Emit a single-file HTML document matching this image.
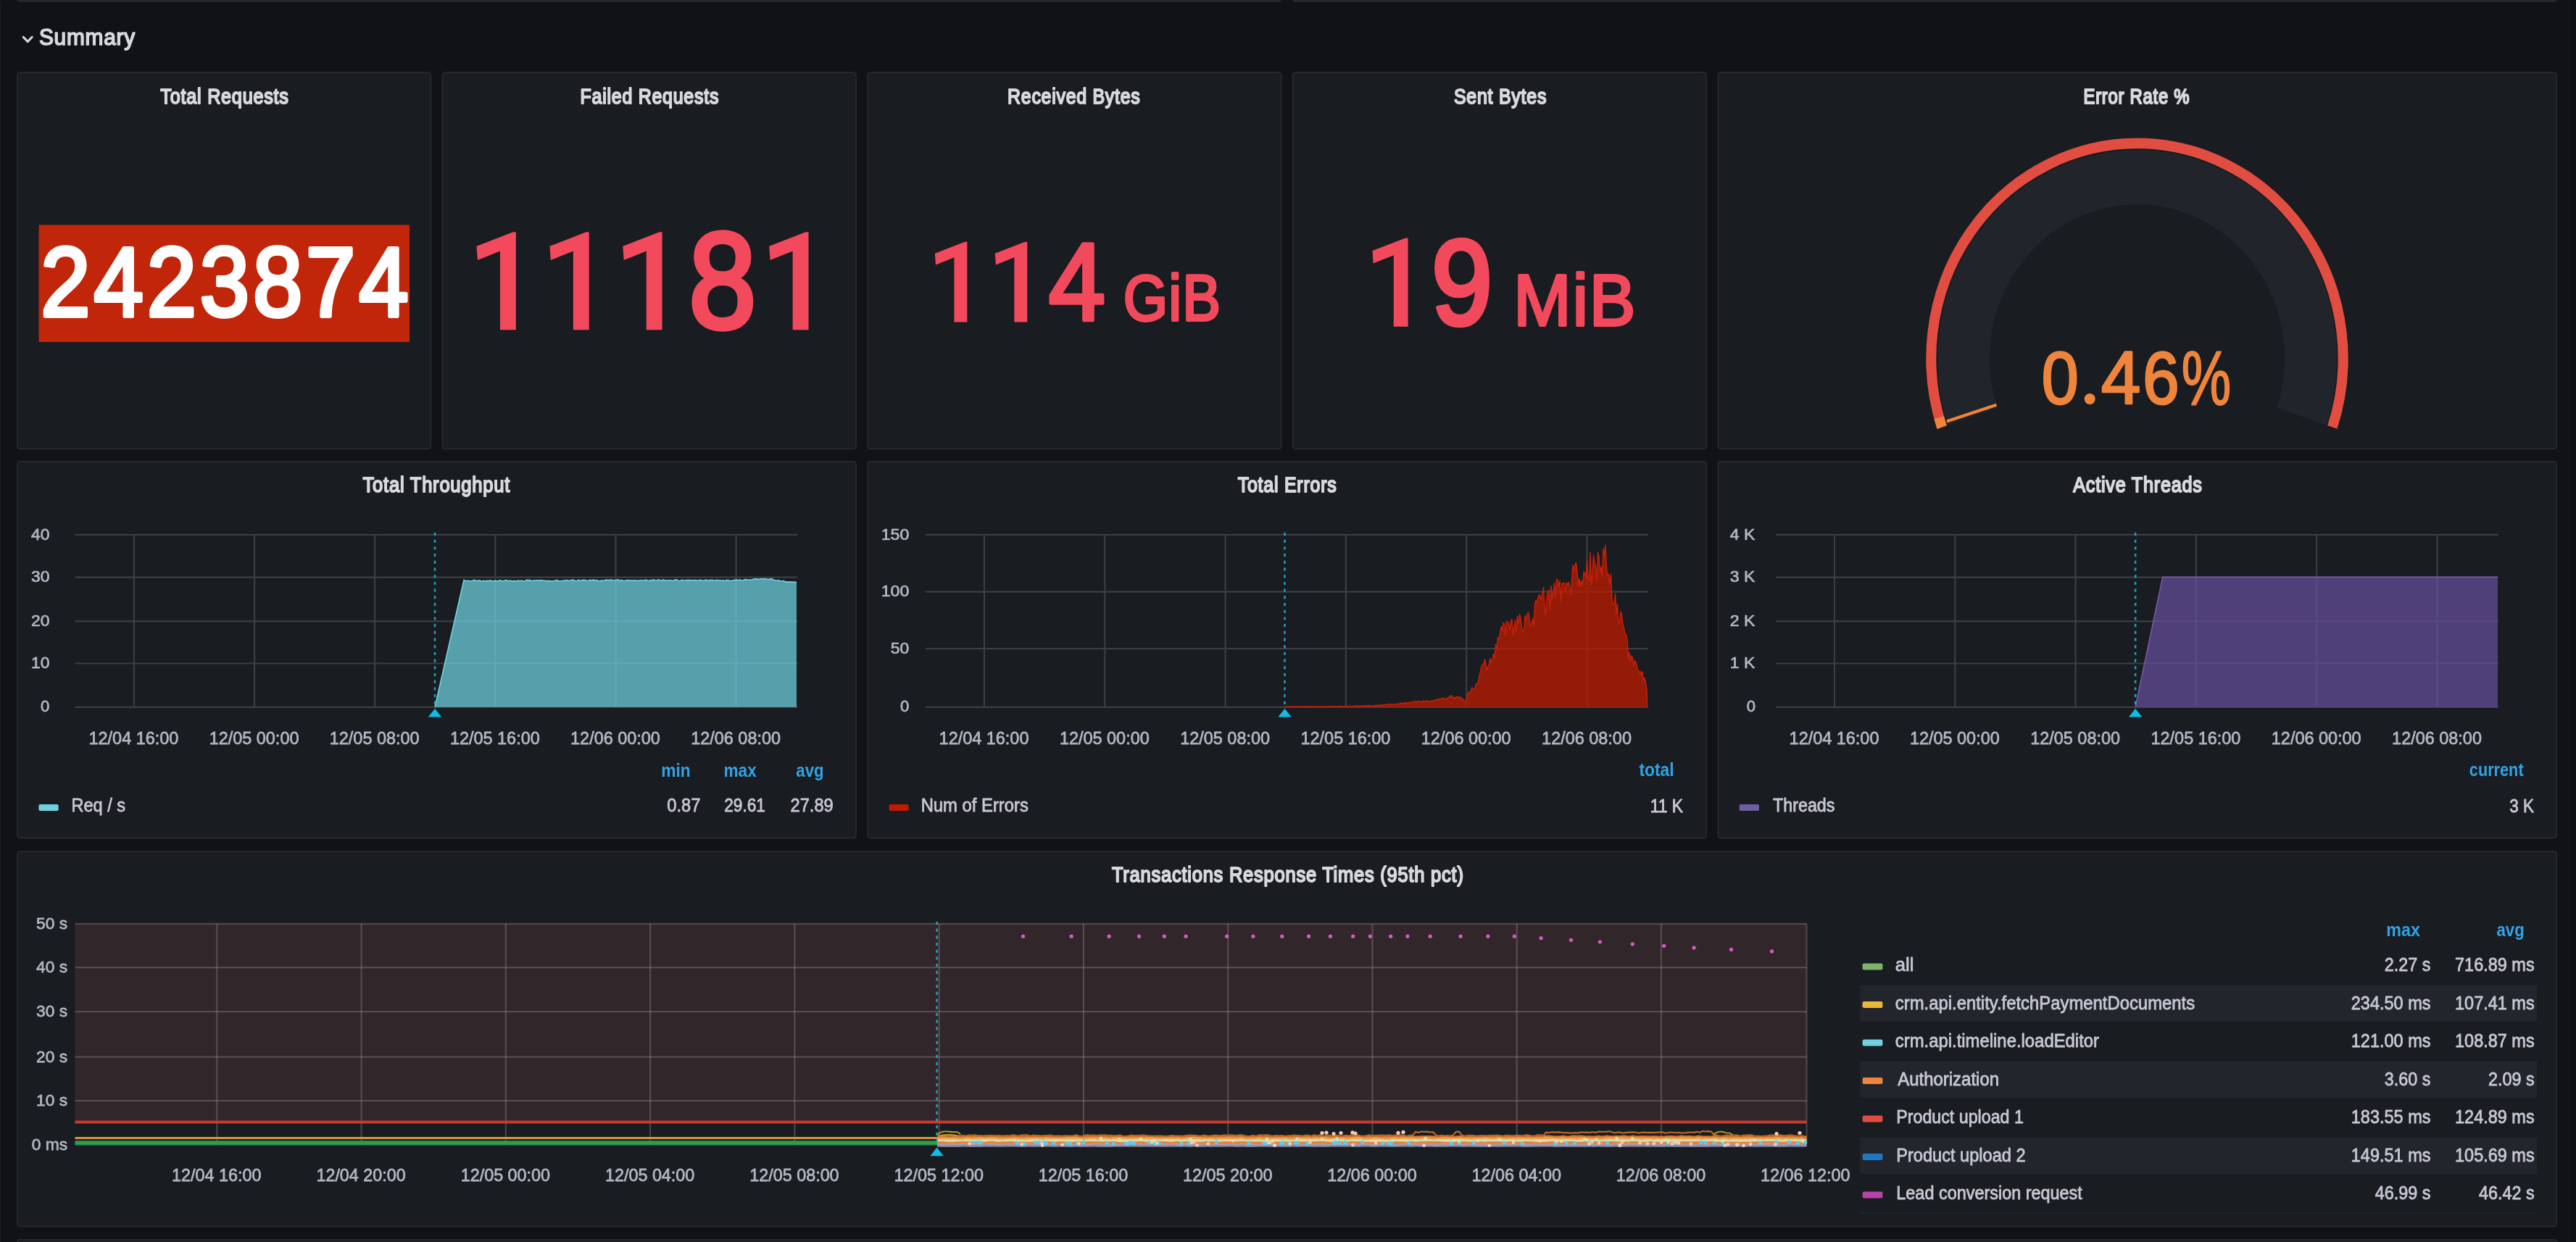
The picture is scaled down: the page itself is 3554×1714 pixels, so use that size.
<!DOCTYPE html>
<html><head><meta charset="utf-8"><title>Summary dashboard</title>
<style>
html,body{margin:0;padding:0;background:#111217;}
body{width:3554px;height:1714px;overflow:hidden;font-family:"Liberation Sans",sans-serif;}
svg{display:block;font-family:"Liberation Sans",sans-serif;filter:blur(0.6px);}
</style></head><body>
<svg width="3554" height="1714" viewBox="0 0 3554 1714">
<rect width="3554" height="1714" fill="#111217"/>
<rect x="24.00" y="-39.00" width="1743.60" height="40.60" rx="4" fill="#191c20" stroke="#2a2d32" stroke-width="2"/>
<rect x="1783.80" y="-39.00" width="1743.60" height="40.60" rx="4" fill="#191c20" stroke="#2a2d32" stroke-width="2"/>
<rect x="24.00" y="1710.70" width="3503.40" height="88.30" rx="4" fill="#191c20" stroke="#24272b" stroke-width="2"/>
<rect x="24.00" y="100.00" width="570.40" height="519.60" rx="4" fill="#191c20" stroke="#24272b" stroke-width="2"/>
<rect x="610.60" y="100.00" width="570.40" height="519.60" rx="4" fill="#191c20" stroke="#24272b" stroke-width="2"/>
<rect x="1197.20" y="100.00" width="570.40" height="519.60" rx="4" fill="#191c20" stroke="#24272b" stroke-width="2"/>
<rect x="1783.80" y="100.00" width="570.40" height="519.60" rx="4" fill="#191c20" stroke="#24272b" stroke-width="2"/>
<rect x="2370.40" y="100.00" width="1157.00" height="519.60" rx="4" fill="#191c20" stroke="#24272b" stroke-width="2"/>
<rect x="24.00" y="637.00" width="1157.00" height="519.60" rx="4" fill="#191c20" stroke="#24272b" stroke-width="2"/>
<rect x="1197.20" y="637.00" width="1157.00" height="519.60" rx="4" fill="#191c20" stroke="#24272b" stroke-width="2"/>
<rect x="2370.40" y="637.00" width="1157.00" height="519.60" rx="4" fill="#191c20" stroke="#24272b" stroke-width="2"/>
<rect x="24.00" y="1175.00" width="3503.40" height="517.40" rx="4" fill="#191c20" stroke="#24272b" stroke-width="2"/>
<rect x="3547.00" y="0.00" width="7.00" height="1714.00" fill="#0e0f13"/>
<rect x="0.00" y="3.00" width="1.30" height="1711.00" fill="#1b1d22"/>
<path d="M32.2 51.2 L38.2 57.4 L44.2 51.2" fill="none" stroke="#d8d9de" stroke-width="3" stroke-linecap="round" stroke-linejoin="round"/>
<text transform="translate(53.96 61.50) scale(0.9553 1)" font-size="31.25" font-weight="normal" fill="#d8d9de" stroke="#d8d9de" stroke-width="1.67" stroke-linejoin="round" letter-spacing="0.78">Summary</text>
<text transform="translate(221.35 142.95) scale(0.8465 1)" font-size="29.80" font-weight="normal" fill="#d8d9de" stroke="#d8d9de" stroke-width="2.01" stroke-linejoin="round" letter-spacing="0.89">Total Requests</text>
<text transform="translate(800.55 142.95) scale(0.8379 1)" font-size="29.80" font-weight="normal" fill="#d8d9de" stroke="#d8d9de" stroke-width="2.03" stroke-linejoin="round" letter-spacing="0.89">Failed Requests</text>
<text transform="translate(1390.06 142.95) scale(0.8361 1)" font-size="29.80" font-weight="normal" fill="#d8d9de" stroke="#d8d9de" stroke-width="2.03" stroke-linejoin="round" letter-spacing="0.89">Received Bytes</text>
<text transform="translate(2005.93 142.95) scale(0.8382 1)" font-size="29.80" font-weight="normal" fill="#d8d9de" stroke="#d8d9de" stroke-width="2.03" stroke-linejoin="round" letter-spacing="0.89">Sent Bytes</text>
<text transform="translate(2874.54 142.95) scale(0.8022 1)" font-size="29.80" font-weight="normal" fill="#d8d9de" stroke="#d8d9de" stroke-width="2.12" stroke-linejoin="round" letter-spacing="0.89">Error Rate %</text>
<text transform="translate(500.54 679.15) scale(0.8659 1)" font-size="29.51" font-weight="normal" fill="#d8d9de" stroke="#d8d9de" stroke-width="1.96" stroke-linejoin="round" letter-spacing="0.89">Total Throughput</text>
<text transform="translate(1707.65 679.15) scale(0.8476 1)" font-size="29.51" font-weight="normal" fill="#d8d9de" stroke="#d8d9de" stroke-width="2.01" stroke-linejoin="round" letter-spacing="0.89">Total Errors</text>
<text transform="translate(2860.25 679.15) scale(0.8549 1)" font-size="29.51" font-weight="normal" fill="#d8d9de" stroke="#d8d9de" stroke-width="1.99" stroke-linejoin="round" letter-spacing="0.89">Active Threads</text>
<text transform="translate(1533.94 1216.65) scale(0.8639 1)" font-size="29.51" font-weight="normal" fill="#d8d9de" stroke="#d8d9de" stroke-width="1.97" stroke-linejoin="round" letter-spacing="0.89">Transactions Response Times (95th pct)</text>
<rect x="53.50" y="310.30" width="511.50" height="161.70" fill="#c1250a"/>
<text transform="translate(56.37 436.00) scale(0.9018 1)" font-size="136.05" font-weight="normal" fill="#ffffff" stroke="#ffffff" stroke-width="5.77" stroke-linejoin="round" letter-spacing="5.44">2423874</text>
<defs><linearGradient id="rg" x1="0" y1="0" x2="1" y2="1"><stop offset="0" stop-color="#f5556a"/><stop offset="1" stop-color="#ee4559"/></linearGradient></defs>
<polygon points="711.80,320.30 707.75,320.30 657.53,339.74 658.88,359.05 689.93,346.49 689.93,455.30 711.80,455.30" fill="#f2495c"/>
<polygon points="812.70,320.30 808.65,320.30 758.43,339.74 759.78,359.05 790.83,346.49 790.83,455.30 812.70,455.30" fill="#f2495c"/>
<polygon points="913.60,320.30 909.55,320.30 859.33,339.74 860.68,359.05 891.73,346.49 891.73,455.30 913.60,455.30" fill="#f2495c"/>
<polygon points="1115.50,320.30 1111.45,320.30 1061.23,339.74 1062.58,359.05 1093.63,346.49 1093.63,455.30 1115.50,455.30" fill="#f2495c"/>
<text transform="translate(950.44 452.28) scale(0.8898 1)" font-size="187.46" fill="#f2495c" stroke="#f2495c" stroke-width="7.30" stroke-linejoin="round">8</text>
<polygon points="1334.40,333.80 1331.08,333.80 1289.86,349.76 1290.97,365.60 1316.45,355.30 1316.45,444.60 1334.40,444.60" fill="#f2495c"/>
<polygon points="1417.30,333.80 1413.98,333.80 1372.76,349.76 1373.87,365.60 1399.35,355.30 1399.35,444.60 1417.30,444.60" fill="#f2495c"/>
<text transform="translate(1446.78 441.90) scale(0.9199 1)" font-size="153.04" fill="#f2495c" stroke="#f2495c" stroke-width="5.44" stroke-linejoin="round">4</text>
<text transform="translate(1549.93 442.15) scale(0.8833 1)" font-size="88.81" font-weight="normal" fill="#f2495c" stroke="#f2495c" stroke-width="3.96" stroke-linejoin="round" letter-spacing="1.78">GiB</text>
<polygon points="1942.60,328.50 1938.93,328.50 1893.44,346.11 1894.66,363.60 1922.79,352.23 1922.79,450.80 1942.60,450.80" fill="#f2495c"/>
<text transform="translate(1975.11 446.94) scale(0.9091 1)" font-size="166.06" fill="#f2495c" stroke="#f2495c" stroke-width="6.60" stroke-linejoin="round">9</text>
<text transform="translate(2088.37 448.50) scale(0.9479 1)" font-size="100.58" font-weight="normal" fill="#f2495c" stroke="#f2495c" stroke-width="3.80" stroke-linejoin="round" letter-spacing="2.01">MiB</text>
<g transform="translate(2948.5 494.8) scale(1 1.045)" fill="none">
<path d="M-226.99 76.40 A239.5 239.5 0 1 1 226.99 76.40" stroke="#21242a" stroke-width="72"/>
<path d="M-269.35 90.66 A284.2 284.2 0 1 1 269.35 90.66" stroke="#e24d42" stroke-width="14"/>
<path d="M-269.35 90.66 A284.2 284.2 0 0 1 -273.32 77.90" stroke="#ef843c" stroke-width="14"/>
<line x1="-194.07" y1="61.24" x2="-262.73" y2="82.90" stroke="#ef843c" stroke-width="4"/>
</g>
<text transform="translate(2816.83 556.57) scale(0.8928 1)" font-size="102.68" fill="#ef843c" stroke="#ef843c" stroke-width="2.91" stroke-linejoin="round">0</text>
<circle cx="2883.2" cy="550.6" r="7.5" fill="#ef843c"/>
<text transform="translate(2898.64 556.80) scale(0.9505 1)" font-size="103.33" fill="#ef843c" stroke="#ef843c" stroke-width="2.74" stroke-linejoin="round">4</text>
<text transform="translate(2956.37 556.57) scale(0.8818 1)" font-size="102.68" fill="#ef843c" stroke="#ef843c" stroke-width="2.95" stroke-linejoin="round">6</text>
<text transform="translate(3009.76 557.62) scale(0.7279 1)" font-size="105.71" fill="#ef843c" stroke="#ef843c" stroke-width="2.06" stroke-linejoin="round">%</text>
<line x1="103.40" y1="738.00" x2="1100.50" y2="738.00" stroke="#3b3e43" stroke-width="2.2"/>
<line x1="103.40" y1="796.60" x2="1100.50" y2="796.60" stroke="#3b3e43" stroke-width="2.2"/>
<line x1="103.40" y1="857.30" x2="1100.50" y2="857.30" stroke="#3b3e43" stroke-width="2.2"/>
<line x1="103.40" y1="915.50" x2="1100.50" y2="915.50" stroke="#3b3e43" stroke-width="2.2"/>
<line x1="103.40" y1="975.80" x2="1100.50" y2="975.80" stroke="#3b3e43" stroke-width="2.2"/>
<line x1="184.90" y1="738.00" x2="184.90" y2="975.80" stroke="#3b3e43" stroke-width="2.2"/>
<line x1="351.04" y1="738.00" x2="351.04" y2="975.80" stroke="#3b3e43" stroke-width="2.2"/>
<line x1="517.18" y1="738.00" x2="517.18" y2="975.80" stroke="#3b3e43" stroke-width="2.2"/>
<line x1="683.32" y1="738.00" x2="683.32" y2="975.80" stroke="#3b3e43" stroke-width="2.2"/>
<line x1="849.46" y1="738.00" x2="849.46" y2="975.80" stroke="#3b3e43" stroke-width="2.2"/>
<line x1="1015.60" y1="738.00" x2="1015.60" y2="975.80" stroke="#3b3e43" stroke-width="2.2"/>
<path d="M600.0 975.8 L640.0 800.6 L641.5 801.1 L643.8 801.7 L646.1 801.3 L648.4 801.7 L650.7 801.8 L653.0 800.8 L655.3 800.6 L657.6 802.1 L659.9 801.1 L662.2 801.0 L664.5 802.4 L666.8 801.4 L669.1 802.1 L671.4 801.4 L673.7 801.7 L676.0 800.8 L678.3 801.6 L680.6 802.1 L682.9 801.4 L685.2 801.8 L687.5 801.7 L689.8 800.6 L692.1 801.8 L694.4 801.5 L696.7 801.0 L699.0 800.5 L701.3 801.9 L703.6 801.2 L705.9 801.7 L708.2 801.9 L710.5 801.6 L712.8 802.0 L715.1 801.0 L717.4 801.8 L719.7 801.1 L722.0 802.0 L724.3 801.9 L726.6 800.4 L728.9 800.5 L731.2 800.6 L733.5 802.0 L735.8 801.0 L738.1 801.3 L740.4 800.8 L742.7 801.1 L745.0 800.9 L747.3 800.8 L749.6 801.2 L751.9 801.2 L754.2 801.8 L756.5 801.4 L758.8 801.8 L761.1 801.7 L763.4 801.9 L765.7 801.3 L768.0 800.4 L770.3 801.6 L772.6 801.8 L774.9 801.7 L777.2 801.1 L779.5 801.4 L781.8 800.4 L784.1 801.5 L786.4 801.1 L788.7 800.6 L791.0 800.1 L793.3 801.6 L795.6 801.8 L797.9 800.2 L800.2 801.4 L802.5 800.7 L804.8 800.3 L807.1 800.5 L809.4 801.4 L811.7 801.6 L814.0 800.1 L816.3 801.1 L818.6 800.0 L820.9 801.3 L823.2 800.6 L825.5 801.5 L827.8 801.7 L830.1 800.9 L832.4 801.7 L834.7 800.5 L837.0 800.1 L839.3 801.0 L841.6 800.0 L843.9 800.3 L846.2 800.7 L848.5 801.0 L850.8 800.2 L853.1 800.0 L855.4 801.5 L857.7 800.5 L860.0 801.6 L862.3 801.5 L864.6 800.6 L866.9 800.7 L869.2 800.8 L871.5 801.1 L873.8 801.0 L876.1 800.9 L878.4 801.0 L880.7 801.6 L883.0 800.8 L885.3 800.7 L887.6 801.2 L889.9 800.3 L892.2 800.4 L894.5 801.7 L896.8 800.8 L899.1 800.9 L901.4 799.9 L903.7 800.7 L906.0 801.0 L908.3 799.9 L910.6 801.0 L912.9 801.1 L915.2 800.0 L917.5 801.1 L919.8 800.8 L922.1 801.2 L924.4 800.6 L926.7 801.2 L929.0 801.3 L931.3 800.0 L933.6 800.1 L935.9 801.2 L938.2 801.7 L940.5 800.4 L942.8 800.8 L945.1 801.0 L947.4 800.6 L949.7 800.6 L952.0 800.5 L954.3 800.7 L956.6 801.1 L958.9 800.5 L961.2 800.7 L963.5 801.4 L965.8 800.1 L968.1 801.1 L970.4 801.4 L972.7 800.6 L975.0 800.4 L977.3 801.5 L979.6 800.5 L981.9 800.4 L984.2 800.9 L986.5 801.3 L988.8 800.3 L991.1 800.7 L993.4 800.7 L995.7 801.6 L998.0 800.9 L1000.3 801.6 L1002.6 800.4 L1004.9 800.7 L1007.2 801.2 L1009.5 801.6 L1011.8 800.8 L1014.1 800.3 L1016.4 800.0 L1018.7 800.7 L1021.0 800.0 L1023.3 801.0 L1025.6 800.9 L1027.9 799.6 L1030.2 799.7 L1032.5 800.5 L1034.8 800.0 L1037.1 800.2 L1039.4 799.2 L1041.7 798.7 L1044.0 798.9 L1046.3 799.7 L1048.6 798.7 L1050.9 798.8 L1053.2 798.9 L1055.5 798.9 L1057.8 799.0 L1060.1 800.0 L1062.4 798.7 L1064.7 798.6 L1067.0 800.4 L1069.3 800.7 L1071.6 801.2 L1073.9 800.6 L1076.2 801.9 L1078.5 802.2 L1080.8 801.3 L1083.1 802.6 L1085.4 803.1 L1087.7 803.1 L1090.0 803.1 L1092.3 803.0 L1094.6 803.4 L1096.9 803.4 L1099.0 803.6 L1099 975.8 Z" fill="rgba(113,217,232,0.70)"/>
<path d="M600.0 975.8 L640.0 800.6 L641.5 801.1 L643.8 801.7 L646.1 801.3 L648.4 801.7 L650.7 801.8 L653.0 800.8 L655.3 800.6 L657.6 802.1 L659.9 801.1 L662.2 801.0 L664.5 802.4 L666.8 801.4 L669.1 802.1 L671.4 801.4 L673.7 801.7 L676.0 800.8 L678.3 801.6 L680.6 802.1 L682.9 801.4 L685.2 801.8 L687.5 801.7 L689.8 800.6 L692.1 801.8 L694.4 801.5 L696.7 801.0 L699.0 800.5 L701.3 801.9 L703.6 801.2 L705.9 801.7 L708.2 801.9 L710.5 801.6 L712.8 802.0 L715.1 801.0 L717.4 801.8 L719.7 801.1 L722.0 802.0 L724.3 801.9 L726.6 800.4 L728.9 800.5 L731.2 800.6 L733.5 802.0 L735.8 801.0 L738.1 801.3 L740.4 800.8 L742.7 801.1 L745.0 800.9 L747.3 800.8 L749.6 801.2 L751.9 801.2 L754.2 801.8 L756.5 801.4 L758.8 801.8 L761.1 801.7 L763.4 801.9 L765.7 801.3 L768.0 800.4 L770.3 801.6 L772.6 801.8 L774.9 801.7 L777.2 801.1 L779.5 801.4 L781.8 800.4 L784.1 801.5 L786.4 801.1 L788.7 800.6 L791.0 800.1 L793.3 801.6 L795.6 801.8 L797.9 800.2 L800.2 801.4 L802.5 800.7 L804.8 800.3 L807.1 800.5 L809.4 801.4 L811.7 801.6 L814.0 800.1 L816.3 801.1 L818.6 800.0 L820.9 801.3 L823.2 800.6 L825.5 801.5 L827.8 801.7 L830.1 800.9 L832.4 801.7 L834.7 800.5 L837.0 800.1 L839.3 801.0 L841.6 800.0 L843.9 800.3 L846.2 800.7 L848.5 801.0 L850.8 800.2 L853.1 800.0 L855.4 801.5 L857.7 800.5 L860.0 801.6 L862.3 801.5 L864.6 800.6 L866.9 800.7 L869.2 800.8 L871.5 801.1 L873.8 801.0 L876.1 800.9 L878.4 801.0 L880.7 801.6 L883.0 800.8 L885.3 800.7 L887.6 801.2 L889.9 800.3 L892.2 800.4 L894.5 801.7 L896.8 800.8 L899.1 800.9 L901.4 799.9 L903.7 800.7 L906.0 801.0 L908.3 799.9 L910.6 801.0 L912.9 801.1 L915.2 800.0 L917.5 801.1 L919.8 800.8 L922.1 801.2 L924.4 800.6 L926.7 801.2 L929.0 801.3 L931.3 800.0 L933.6 800.1 L935.9 801.2 L938.2 801.7 L940.5 800.4 L942.8 800.8 L945.1 801.0 L947.4 800.6 L949.7 800.6 L952.0 800.5 L954.3 800.7 L956.6 801.1 L958.9 800.5 L961.2 800.7 L963.5 801.4 L965.8 800.1 L968.1 801.1 L970.4 801.4 L972.7 800.6 L975.0 800.4 L977.3 801.5 L979.6 800.5 L981.9 800.4 L984.2 800.9 L986.5 801.3 L988.8 800.3 L991.1 800.7 L993.4 800.7 L995.7 801.6 L998.0 800.9 L1000.3 801.6 L1002.6 800.4 L1004.9 800.7 L1007.2 801.2 L1009.5 801.6 L1011.8 800.8 L1014.1 800.3 L1016.4 800.0 L1018.7 800.7 L1021.0 800.0 L1023.3 801.0 L1025.6 800.9 L1027.9 799.6 L1030.2 799.7 L1032.5 800.5 L1034.8 800.0 L1037.1 800.2 L1039.4 799.2 L1041.7 798.7 L1044.0 798.9 L1046.3 799.7 L1048.6 798.7 L1050.9 798.8 L1053.2 798.9 L1055.5 798.9 L1057.8 799.0 L1060.1 800.0 L1062.4 798.7 L1064.7 798.6 L1067.0 800.4 L1069.3 800.7 L1071.6 801.2 L1073.9 800.6 L1076.2 801.9 L1078.5 802.2 L1080.8 801.3 L1083.1 802.6 L1085.4 803.1 L1087.7 803.1 L1090.0 803.1 L1092.3 803.0 L1094.6 803.4 L1096.9 803.4 L1099.0 803.6" fill="none" stroke="#74d2e0" stroke-width="1.6"/>
<line x1="600.00" y1="735.00" x2="600.00" y2="977.80" stroke="#22a9c8" stroke-width="2.6" stroke-dasharray="4.2 5.5" opacity="0.9"/>
<path d="M590.8 989.6 L600.0 978.0 L609.2 989.6 Z" fill="#0dbde6"/>
<text transform="translate(42.89 744.50) scale(1.0040 1)" font-size="22.82" font-weight="normal" fill="#b3b6c3" stroke="#b3b6c3" stroke-width="0.75" stroke-linejoin="round">40</text>
<text transform="translate(42.91 803.10) scale(1.0034 1)" font-size="22.82" font-weight="normal" fill="#b3b6c3" stroke="#b3b6c3" stroke-width="0.75" stroke-linejoin="round">30</text>
<text transform="translate(42.92 863.80) scale(1.0031 1)" font-size="22.82" font-weight="normal" fill="#b3b6c3" stroke="#b3b6c3" stroke-width="0.75" stroke-linejoin="round">20</text>
<text transform="translate(42.94 922.00) scale(1.0023 1)" font-size="22.82" font-weight="normal" fill="#b3b6c3" stroke="#b3b6c3" stroke-width="0.75" stroke-linejoin="round">10</text>
<text transform="translate(56.05 982.30) scale(0.9667 1)" font-size="22.82" font-weight="normal" fill="#b3b6c3" stroke="#b3b6c3" stroke-width="0.78" stroke-linejoin="round">0</text>
<text transform="translate(122.52 1026.80) scale(0.9839 1)" font-size="23.84" font-weight="normal" fill="#b3b6c3" stroke="#b3b6c3" stroke-width="0.76" stroke-linejoin="round">12/04 16:00</text>
<text transform="translate(288.66 1026.80) scale(0.9839 1)" font-size="23.84" font-weight="normal" fill="#b3b6c3" stroke="#b3b6c3" stroke-width="0.76" stroke-linejoin="round">12/05 00:00</text>
<text transform="translate(454.80 1026.80) scale(0.9839 1)" font-size="23.84" font-weight="normal" fill="#b3b6c3" stroke="#b3b6c3" stroke-width="0.76" stroke-linejoin="round">12/05 08:00</text>
<text transform="translate(620.94 1026.80) scale(0.9839 1)" font-size="23.84" font-weight="normal" fill="#b3b6c3" stroke="#b3b6c3" stroke-width="0.76" stroke-linejoin="round">12/05 16:00</text>
<text transform="translate(787.08 1026.80) scale(0.9839 1)" font-size="23.84" font-weight="normal" fill="#b3b6c3" stroke="#b3b6c3" stroke-width="0.76" stroke-linejoin="round">12/06 00:00</text>
<text transform="translate(953.22 1026.80) scale(0.9839 1)" font-size="23.84" font-weight="normal" fill="#b3b6c3" stroke="#b3b6c3" stroke-width="0.76" stroke-linejoin="round">12/06 08:00</text>
<rect x="53.40" y="1110.00" width="27.30" height="9.00" fill="#6ed0e0" rx="2"/>
<text transform="translate(98.39 1120.40) scale(0.8965 1)" font-size="26.31" font-weight="normal" fill="#c6c7d4" stroke="#c6c7d4" stroke-width="0.84" stroke-linejoin="round">Req / s</text>
<text transform="translate(912.22 1071.50) scale(0.8824 1)" font-size="25.76" font-weight="bold" fill="#33a2e5">min</text>
<text transform="translate(998.53 1071.50) scale(0.8770 1)" font-size="25.76" font-weight="bold" fill="#33a2e5">max</text>
<text transform="translate(1098.34 1071.50) scale(0.8601 1)" font-size="25.76" font-weight="bold" fill="#33a2e5">avg</text>
<text transform="translate(920.23 1120.40) scale(0.9178 1)" font-size="25.87" font-weight="normal" fill="#c6c7d4" stroke="#c6c7d4" stroke-width="0.82" stroke-linejoin="round">0.87</text>
<text transform="translate(999.24 1120.40) scale(0.8767 1)" font-size="25.87" font-weight="normal" fill="#c6c7d4" stroke="#c6c7d4" stroke-width="0.86" stroke-linejoin="round">29.61</text>
<text transform="translate(1090.59 1120.40) scale(0.9137 1)" font-size="25.87" font-weight="normal" fill="#c6c7d4" stroke="#c6c7d4" stroke-width="0.82" stroke-linejoin="round">27.89</text>
<line x1="1276.90" y1="738.00" x2="2274.00" y2="738.00" stroke="#3b3e43" stroke-width="2.2"/>
<line x1="1276.90" y1="816.70" x2="2274.00" y2="816.70" stroke="#3b3e43" stroke-width="2.2"/>
<line x1="1276.90" y1="895.20" x2="2274.00" y2="895.20" stroke="#3b3e43" stroke-width="2.2"/>
<line x1="1276.90" y1="975.80" x2="2274.00" y2="975.80" stroke="#3b3e43" stroke-width="2.2"/>
<line x1="1358.00" y1="738.00" x2="1358.00" y2="975.80" stroke="#3b3e43" stroke-width="2.2"/>
<line x1="1524.30" y1="738.00" x2="1524.30" y2="975.80" stroke="#3b3e43" stroke-width="2.2"/>
<line x1="1690.60" y1="738.00" x2="1690.60" y2="975.80" stroke="#3b3e43" stroke-width="2.2"/>
<line x1="1856.90" y1="738.00" x2="1856.90" y2="975.80" stroke="#3b3e43" stroke-width="2.2"/>
<line x1="2023.20" y1="738.00" x2="2023.20" y2="975.80" stroke="#3b3e43" stroke-width="2.2"/>
<line x1="2189.50" y1="738.00" x2="2189.50" y2="975.80" stroke="#3b3e43" stroke-width="2.2"/>
<path d="M1772.5 975.8 L1772.5 975.3 L1774.0 975.3 L1775.5 975.3 L1777.0 975.3 L1778.5 975.3 L1780.0 975.3 L1781.5 975.2 L1783.0 975.3 L1784.5 975.3 L1786.0 975.3 L1787.5 975.0 L1789.0 975.3 L1790.5 975.0 L1792.0 975.3 L1793.5 975.3 L1795.0 974.9 L1796.5 975.3 L1798.0 975.3 L1799.5 975.3 L1801.0 975.3 L1802.5 975.0 L1804.0 974.8 L1805.5 975.3 L1807.0 974.9 L1808.5 975.1 L1810.0 975.1 L1811.5 974.8 L1813.0 975.3 L1814.5 975.3 L1816.0 975.3 L1817.5 975.3 L1819.0 975.3 L1820.5 975.3 L1822.0 975.3 L1823.5 975.3 L1825.0 975.1 L1826.5 975.3 L1828.0 975.3 L1829.5 975.3 L1831.0 975.3 L1832.5 975.1 L1834.0 974.9 L1835.5 975.0 L1837.0 974.6 L1838.5 975.3 L1840.0 975.0 L1841.5 975.3 L1843.0 975.0 L1844.5 975.3 L1846.0 975.3 L1847.5 974.3 L1849.0 974.6 L1850.5 975.3 L1852.0 974.9 L1853.5 975.3 L1855.0 974.7 L1856.5 974.2 L1858.0 975.0 L1859.5 975.3 L1861.0 974.4 L1862.5 974.1 L1864.0 974.5 L1865.5 975.3 L1867.0 975.1 L1868.5 974.0 L1870.0 974.2 L1871.5 973.9 L1873.0 973.8 L1874.5 975.0 L1876.0 974.0 L1877.5 974.5 L1879.0 974.3 L1880.5 973.9 L1882.0 974.7 L1883.5 973.6 L1885.0 974.4 L1886.5 973.4 L1888.0 973.9 L1889.5 973.4 L1891.0 973.5 L1892.5 974.5 L1894.0 974.2 L1895.5 973.3 L1897.0 974.1 L1898.5 973.0 L1900.0 973.2 L1901.5 973.8 L1903.0 973.4 L1904.5 972.5 L1906.0 973.8 L1907.5 972.5 L1909.0 972.5 L1910.5 973.2 L1912.0 972.4 L1913.5 972.3 L1915.0 971.9 L1916.5 971.8 L1918.0 972.5 L1919.5 971.9 L1921.0 972.3 L1922.5 971.8 L1924.0 971.7 L1925.5 972.4 L1927.0 971.4 L1928.5 971.4 L1930.0 971.7 L1931.5 970.4 L1933.0 970.2 L1934.5 971.2 L1936.0 970.8 L1937.5 969.8 L1939.0 969.5 L1940.5 970.2 L1942.0 970.3 L1943.5 968.9 L1945.0 970.0 L1946.5 969.7 L1948.0 969.0 L1949.5 968.6 L1951.0 967.8 L1952.5 967.7 L1954.0 969.5 L1955.5 967.7 L1957.0 968.5 L1958.5 967.6 L1960.0 968.8 L1961.5 968.1 L1963.0 967.5 L1964.5 967.3 L1966.0 968.2 L1967.5 967.1 L1969.0 967.1 L1970.5 967.6 L1972.0 968.5 L1973.5 967.7 L1975.0 967.0 L1976.5 968.5 L1978.0 966.4 L1979.5 965.9 L1981.0 965.7 L1982.5 965.6 L1984.0 964.8 L1985.5 964.5 L1987.0 964.4 L1988.5 964.6 L1990.0 963.3 L1991.5 963.3 L1993.0 965.0 L1994.5 965.3 L1996.0 963.2 L1997.5 963.0 L1999.0 962.2 L2000.5 960.7 L2002.0 960.3 L2003.5 960.3 L2005.0 963.5 L2006.5 962.4 L2008.0 964.1 L2009.5 960.8 L2011.0 962.4 L2012.5 961.9 L2014.0 963.1 L2015.5 961.9 L2017.0 966.1 L2018.5 964.6 L2020.0 966.8 L2021.5 968.7 L2023.0 965.0 L2024.5 958.5 L2026.0 955.4 L2027.5 954.9 L2029.0 954.9 L2030.5 949.0 L2032.0 950.0 L2033.5 951.2 L2035.0 949.5 L2036.5 943.6 L2038.0 943.7 L2039.5 940.5 L2041.0 931.4 L2042.5 927.3 L2044.0 919.1 L2045.5 917.0 L2047.0 916.4 L2048.5 910.0 L2050.0 915.7 L2051.5 924.3 L2053.0 920.3 L2054.5 915.7 L2056.0 908.7 L2057.5 914.5 L2059.0 909.6 L2060.5 902.5 L2062.0 907.8 L2063.5 889.3 L2065.0 896.7 L2066.5 879.4 L2068.0 883.1 L2069.5 874.6 L2071.0 864.6 L2072.5 871.4 L2074.0 859.3 L2075.5 860.7 L2077.0 877.4 L2078.5 857.2 L2080.0 858.3 L2081.5 860.7 L2083.0 869.9 L2084.5 856.6 L2086.0 854.9 L2087.5 876.9 L2089.0 864.3 L2090.5 855.8 L2092.0 872.8 L2093.5 850.5 L2095.0 860.6 L2096.5 847.8 L2098.0 852.1 L2099.5 866.3 L2101.0 871.8 L2102.5 869.7 L2104.0 849.8 L2105.5 855.6 L2107.0 847.8 L2108.5 844.9 L2110.0 851.9 L2111.5 865.0 L2113.0 863.2 L2114.5 853.5 L2116.0 864.4 L2117.5 833.3 L2119.0 828.7 L2120.5 832.0 L2122.0 824.5 L2123.5 820.4 L2125.0 822.2 L2126.5 828.0 L2128.0 819.4 L2129.5 810.7 L2131.0 835.1 L2132.5 849.1 L2134.0 823.4 L2135.5 816.7 L2137.0 813.9 L2138.5 841.2 L2140.0 808.5 L2141.5 826.2 L2143.0 816.5 L2144.5 804.4 L2146.0 825.1 L2147.5 799.2 L2149.0 800.7 L2150.5 809.4 L2152.0 801.5 L2153.5 830.9 L2155.0 805.3 L2156.5 804.5 L2158.0 804.5 L2159.5 818.1 L2161.0 804.2 L2162.5 807.3 L2164.0 803.4 L2165.5 809.5 L2167.0 821.9 L2168.5 800.3 L2170.0 779.6 L2171.5 788.2 L2173.0 778.7 L2174.5 776.8 L2176.0 787.2 L2177.5 809.6 L2179.0 798.3 L2180.5 809.5 L2182.0 801.2 L2183.5 807.7 L2185.0 789.0 L2186.5 791.2 L2188.0 797.9 L2189.5 774.2 L2191.0 795.2 L2192.5 802.8 L2194.0 762.0 L2195.5 807.3 L2197.0 790.7 L2198.5 766.3 L2200.0 777.1 L2201.5 782.7 L2203.0 801.9 L2204.5 762.3 L2206.0 768.2 L2207.5 790.7 L2209.0 782.2 L2210.5 795.4 L2212.0 757.0 L2213.5 767.6 L2215.0 752.1 L2216.5 783.3 L2218.0 796.0 L2219.5 791.8 L2221.0 807.4 L2222.5 792.1 L2224.0 826.9 L2225.5 834.3 L2227.0 834.7 L2228.5 819.1 L2230.0 846.7 L2231.5 833.4 L2233.0 860.0 L2234.5 857.9 L2236.0 843.7 L2237.5 848.2 L2239.0 861.8 L2240.5 866.4 L2242.0 875.4 L2243.5 875.2 L2245.0 882.6 L2246.5 908.6 L2248.0 900.0 L2249.5 913.3 L2251.0 904.5 L2252.5 907.8 L2254.0 918.3 L2255.5 911.3 L2257.0 914.0 L2258.5 920.2 L2260.0 924.9 L2261.5 928.3 L2263.0 926.0 L2264.5 932.5 L2266.0 927.0 L2267.5 939.6 L2269.0 935.3 L2270.5 942.5 L2272.0 951.3 L2272.6 975.8 Z" fill="rgba(191,27,0,0.74)"/>
<path d="M1772.5 975.3 L1774.0 975.3 L1775.5 975.3 L1777.0 975.3 L1778.5 975.3 L1780.0 975.3 L1781.5 975.2 L1783.0 975.3 L1784.5 975.3 L1786.0 975.3 L1787.5 975.0 L1789.0 975.3 L1790.5 975.0 L1792.0 975.3 L1793.5 975.3 L1795.0 974.9 L1796.5 975.3 L1798.0 975.3 L1799.5 975.3 L1801.0 975.3 L1802.5 975.0 L1804.0 974.8 L1805.5 975.3 L1807.0 974.9 L1808.5 975.1 L1810.0 975.1 L1811.5 974.8 L1813.0 975.3 L1814.5 975.3 L1816.0 975.3 L1817.5 975.3 L1819.0 975.3 L1820.5 975.3 L1822.0 975.3 L1823.5 975.3 L1825.0 975.1 L1826.5 975.3 L1828.0 975.3 L1829.5 975.3 L1831.0 975.3 L1832.5 975.1 L1834.0 974.9 L1835.5 975.0 L1837.0 974.6 L1838.5 975.3 L1840.0 975.0 L1841.5 975.3 L1843.0 975.0 L1844.5 975.3 L1846.0 975.3 L1847.5 974.3 L1849.0 974.6 L1850.5 975.3 L1852.0 974.9 L1853.5 975.3 L1855.0 974.7 L1856.5 974.2 L1858.0 975.0 L1859.5 975.3 L1861.0 974.4 L1862.5 974.1 L1864.0 974.5 L1865.5 975.3 L1867.0 975.1 L1868.5 974.0 L1870.0 974.2 L1871.5 973.9 L1873.0 973.8 L1874.5 975.0 L1876.0 974.0 L1877.5 974.5 L1879.0 974.3 L1880.5 973.9 L1882.0 974.7 L1883.5 973.6 L1885.0 974.4 L1886.5 973.4 L1888.0 973.9 L1889.5 973.4 L1891.0 973.5 L1892.5 974.5 L1894.0 974.2 L1895.5 973.3 L1897.0 974.1 L1898.5 973.0 L1900.0 973.2 L1901.5 973.8 L1903.0 973.4 L1904.5 972.5 L1906.0 973.8 L1907.5 972.5 L1909.0 972.5 L1910.5 973.2 L1912.0 972.4 L1913.5 972.3 L1915.0 971.9 L1916.5 971.8 L1918.0 972.5 L1919.5 971.9 L1921.0 972.3 L1922.5 971.8 L1924.0 971.7 L1925.5 972.4 L1927.0 971.4 L1928.5 971.4 L1930.0 971.7 L1931.5 970.4 L1933.0 970.2 L1934.5 971.2 L1936.0 970.8 L1937.5 969.8 L1939.0 969.5 L1940.5 970.2 L1942.0 970.3 L1943.5 968.9 L1945.0 970.0 L1946.5 969.7 L1948.0 969.0 L1949.5 968.6 L1951.0 967.8 L1952.5 967.7 L1954.0 969.5 L1955.5 967.7 L1957.0 968.5 L1958.5 967.6 L1960.0 968.8 L1961.5 968.1 L1963.0 967.5 L1964.5 967.3 L1966.0 968.2 L1967.5 967.1 L1969.0 967.1 L1970.5 967.6 L1972.0 968.5 L1973.5 967.7 L1975.0 967.0 L1976.5 968.5 L1978.0 966.4 L1979.5 965.9 L1981.0 965.7 L1982.5 965.6 L1984.0 964.8 L1985.5 964.5 L1987.0 964.4 L1988.5 964.6 L1990.0 963.3 L1991.5 963.3 L1993.0 965.0 L1994.5 965.3 L1996.0 963.2 L1997.5 963.0 L1999.0 962.2 L2000.5 960.7 L2002.0 960.3 L2003.5 960.3 L2005.0 963.5 L2006.5 962.4 L2008.0 964.1 L2009.5 960.8 L2011.0 962.4 L2012.5 961.9 L2014.0 963.1 L2015.5 961.9 L2017.0 966.1 L2018.5 964.6 L2020.0 966.8 L2021.5 968.7 L2023.0 965.0 L2024.5 958.5 L2026.0 955.4 L2027.5 954.9 L2029.0 954.9 L2030.5 949.0 L2032.0 950.0 L2033.5 951.2 L2035.0 949.5 L2036.5 943.6 L2038.0 943.7 L2039.5 940.5 L2041.0 931.4 L2042.5 927.3 L2044.0 919.1 L2045.5 917.0 L2047.0 916.4 L2048.5 910.0 L2050.0 915.7 L2051.5 924.3 L2053.0 920.3 L2054.5 915.7 L2056.0 908.7 L2057.5 914.5 L2059.0 909.6 L2060.5 902.5 L2062.0 907.8 L2063.5 889.3 L2065.0 896.7 L2066.5 879.4 L2068.0 883.1 L2069.5 874.6 L2071.0 864.6 L2072.5 871.4 L2074.0 859.3 L2075.5 860.7 L2077.0 877.4 L2078.5 857.2 L2080.0 858.3 L2081.5 860.7 L2083.0 869.9 L2084.5 856.6 L2086.0 854.9 L2087.5 876.9 L2089.0 864.3 L2090.5 855.8 L2092.0 872.8 L2093.5 850.5 L2095.0 860.6 L2096.5 847.8 L2098.0 852.1 L2099.5 866.3 L2101.0 871.8 L2102.5 869.7 L2104.0 849.8 L2105.5 855.6 L2107.0 847.8 L2108.5 844.9 L2110.0 851.9 L2111.5 865.0 L2113.0 863.2 L2114.5 853.5 L2116.0 864.4 L2117.5 833.3 L2119.0 828.7 L2120.5 832.0 L2122.0 824.5 L2123.5 820.4 L2125.0 822.2 L2126.5 828.0 L2128.0 819.4 L2129.5 810.7 L2131.0 835.1 L2132.5 849.1 L2134.0 823.4 L2135.5 816.7 L2137.0 813.9 L2138.5 841.2 L2140.0 808.5 L2141.5 826.2 L2143.0 816.5 L2144.5 804.4 L2146.0 825.1 L2147.5 799.2 L2149.0 800.7 L2150.5 809.4 L2152.0 801.5 L2153.5 830.9 L2155.0 805.3 L2156.5 804.5 L2158.0 804.5 L2159.5 818.1 L2161.0 804.2 L2162.5 807.3 L2164.0 803.4 L2165.5 809.5 L2167.0 821.9 L2168.5 800.3 L2170.0 779.6 L2171.5 788.2 L2173.0 778.7 L2174.5 776.8 L2176.0 787.2 L2177.5 809.6 L2179.0 798.3 L2180.5 809.5 L2182.0 801.2 L2183.5 807.7 L2185.0 789.0 L2186.5 791.2 L2188.0 797.9 L2189.5 774.2 L2191.0 795.2 L2192.5 802.8 L2194.0 762.0 L2195.5 807.3 L2197.0 790.7 L2198.5 766.3 L2200.0 777.1 L2201.5 782.7 L2203.0 801.9 L2204.5 762.3 L2206.0 768.2 L2207.5 790.7 L2209.0 782.2 L2210.5 795.4 L2212.0 757.0 L2213.5 767.6 L2215.0 752.1 L2216.5 783.3 L2218.0 796.0 L2219.5 791.8 L2221.0 807.4 L2222.5 792.1 L2224.0 826.9 L2225.5 834.3 L2227.0 834.7 L2228.5 819.1 L2230.0 846.7 L2231.5 833.4 L2233.0 860.0 L2234.5 857.9 L2236.0 843.7 L2237.5 848.2 L2239.0 861.8 L2240.5 866.4 L2242.0 875.4 L2243.5 875.2 L2245.0 882.6 L2246.5 908.6 L2248.0 900.0 L2249.5 913.3 L2251.0 904.5 L2252.5 907.8 L2254.0 918.3 L2255.5 911.3 L2257.0 914.0 L2258.5 920.2 L2260.0 924.9 L2261.5 928.3 L2263.0 926.0 L2264.5 932.5 L2266.0 927.0 L2267.5 939.6 L2269.0 935.3 L2270.5 942.5 L2272.0 951.3 L2272.6 975.8" fill="none" stroke="#c5200a" stroke-width="1.4" stroke-linejoin="round"/>
<line x1="1772.50" y1="735.00" x2="1772.50" y2="977.80" stroke="#22a9c8" stroke-width="2.6" stroke-dasharray="4.2 5.5" opacity="0.9"/>
<path d="M1763.3 989.6 L1772.5 978.0 L1781.7 989.6 Z" fill="#0dbde6"/>
<text transform="translate(1215.71 744.50) scale(1.0141 1)" font-size="22.82" font-weight="normal" fill="#b3b6c3" stroke="#b3b6c3" stroke-width="0.74" stroke-linejoin="round">150</text>
<text transform="translate(1215.71 823.20) scale(1.0141 1)" font-size="22.82" font-weight="normal" fill="#b3b6c3" stroke="#b3b6c3" stroke-width="0.74" stroke-linejoin="round">100</text>
<text transform="translate(1228.81 901.70) scale(1.0034 1)" font-size="22.82" font-weight="normal" fill="#b3b6c3" stroke="#b3b6c3" stroke-width="0.75" stroke-linejoin="round">50</text>
<text transform="translate(1241.95 982.30) scale(0.9667 1)" font-size="22.82" font-weight="normal" fill="#b3b6c3" stroke="#b3b6c3" stroke-width="0.78" stroke-linejoin="round">0</text>
<text transform="translate(1295.62 1026.80) scale(0.9839 1)" font-size="23.84" font-weight="normal" fill="#b3b6c3" stroke="#b3b6c3" stroke-width="0.76" stroke-linejoin="round">12/04 16:00</text>
<text transform="translate(1461.92 1026.80) scale(0.9839 1)" font-size="23.84" font-weight="normal" fill="#b3b6c3" stroke="#b3b6c3" stroke-width="0.76" stroke-linejoin="round">12/05 00:00</text>
<text transform="translate(1628.22 1026.80) scale(0.9839 1)" font-size="23.84" font-weight="normal" fill="#b3b6c3" stroke="#b3b6c3" stroke-width="0.76" stroke-linejoin="round">12/05 08:00</text>
<text transform="translate(1794.52 1026.80) scale(0.9839 1)" font-size="23.84" font-weight="normal" fill="#b3b6c3" stroke="#b3b6c3" stroke-width="0.76" stroke-linejoin="round">12/05 16:00</text>
<text transform="translate(1960.82 1026.80) scale(0.9839 1)" font-size="23.84" font-weight="normal" fill="#b3b6c3" stroke="#b3b6c3" stroke-width="0.76" stroke-linejoin="round">12/06 00:00</text>
<text transform="translate(2127.12 1026.80) scale(0.9839 1)" font-size="23.84" font-weight="normal" fill="#b3b6c3" stroke="#b3b6c3" stroke-width="0.76" stroke-linejoin="round">12/06 08:00</text>
<rect x="1226.60" y="1110.00" width="27.00" height="9.00" fill="#bf1b00" rx="2"/>
<text transform="translate(1270.67 1120.40) scale(0.9055 1)" font-size="26.31" font-weight="normal" fill="#c6c7d4" stroke="#c6c7d4" stroke-width="0.83" stroke-linejoin="round">Num of Errors</text>
<text transform="translate(2261.47 1071.00) scale(0.8871 1)" font-size="25.76" font-weight="bold" fill="#33a2e5">total</text>
<text transform="translate(2276.66 1120.60) scale(0.8862 1)" font-size="25.87" font-weight="normal" fill="#c6c7d4" stroke="#c6c7d4" stroke-width="0.85" stroke-linejoin="round">11 K</text>
<line x1="2450.00" y1="738.00" x2="3446.60" y2="738.00" stroke="#3b3e43" stroke-width="2.2"/>
<line x1="2450.00" y1="796.60" x2="3446.60" y2="796.60" stroke="#3b3e43" stroke-width="2.2"/>
<line x1="2450.00" y1="857.30" x2="3446.60" y2="857.30" stroke="#3b3e43" stroke-width="2.2"/>
<line x1="2450.00" y1="915.50" x2="3446.60" y2="915.50" stroke="#3b3e43" stroke-width="2.2"/>
<line x1="2450.00" y1="975.80" x2="3446.60" y2="975.80" stroke="#3b3e43" stroke-width="2.2"/>
<line x1="2531.00" y1="738.00" x2="2531.00" y2="975.80" stroke="#3b3e43" stroke-width="2.2"/>
<line x1="2697.30" y1="738.00" x2="2697.30" y2="975.80" stroke="#3b3e43" stroke-width="2.2"/>
<line x1="2863.60" y1="738.00" x2="2863.60" y2="975.80" stroke="#3b3e43" stroke-width="2.2"/>
<line x1="3029.90" y1="738.00" x2="3029.90" y2="975.80" stroke="#3b3e43" stroke-width="2.2"/>
<line x1="3196.20" y1="738.00" x2="3196.20" y2="975.80" stroke="#3b3e43" stroke-width="2.2"/>
<line x1="3362.50" y1="738.00" x2="3362.50" y2="975.80" stroke="#3b3e43" stroke-width="2.2"/>
<path d="M2946 975.8 L2983.8 796.3 L3446 796.3 L3446 975.8 Z" fill="rgba(104,80,160,0.70)"/>
<path d="M2946 975.8 L2983.8 796.3 L3446 796.3" fill="none" stroke="#705da0" stroke-width="1.6"/>
<line x1="2946.10" y1="735.00" x2="2946.10" y2="977.80" stroke="#22a9c8" stroke-width="2.6" stroke-dasharray="4.2 5.5" opacity="0.9"/>
<path d="M2936.9 989.6 L2946.1 978.0 L2955.3 989.6 Z" fill="#0dbde6"/>
<text transform="translate(2386.69 744.50) scale(1.0128 1)" font-size="22.82" font-weight="normal" fill="#b3b6c3" stroke="#b3b6c3" stroke-width="0.74" stroke-linejoin="round">4 K</text>
<text transform="translate(2386.70 803.10) scale(1.0125 1)" font-size="22.82" font-weight="normal" fill="#b3b6c3" stroke="#b3b6c3" stroke-width="0.74" stroke-linejoin="round">3 K</text>
<text transform="translate(2386.70 863.80) scale(1.0124 1)" font-size="22.82" font-weight="normal" fill="#b3b6c3" stroke="#b3b6c3" stroke-width="0.74" stroke-linejoin="round">2 K</text>
<text transform="translate(2386.72 922.00) scale(1.0120 1)" font-size="22.82" font-weight="normal" fill="#b3b6c3" stroke="#b3b6c3" stroke-width="0.74" stroke-linejoin="round">1 K</text>
<text transform="translate(2409.65 982.30) scale(0.9667 1)" font-size="22.82" font-weight="normal" fill="#b3b6c3" stroke="#b3b6c3" stroke-width="0.78" stroke-linejoin="round">0</text>
<text transform="translate(2468.62 1026.80) scale(0.9839 1)" font-size="23.84" font-weight="normal" fill="#b3b6c3" stroke="#b3b6c3" stroke-width="0.76" stroke-linejoin="round">12/04 16:00</text>
<text transform="translate(2634.92 1026.80) scale(0.9839 1)" font-size="23.84" font-weight="normal" fill="#b3b6c3" stroke="#b3b6c3" stroke-width="0.76" stroke-linejoin="round">12/05 00:00</text>
<text transform="translate(2801.22 1026.80) scale(0.9839 1)" font-size="23.84" font-weight="normal" fill="#b3b6c3" stroke="#b3b6c3" stroke-width="0.76" stroke-linejoin="round">12/05 08:00</text>
<text transform="translate(2967.52 1026.80) scale(0.9839 1)" font-size="23.84" font-weight="normal" fill="#b3b6c3" stroke="#b3b6c3" stroke-width="0.76" stroke-linejoin="round">12/05 16:00</text>
<text transform="translate(3133.82 1026.80) scale(0.9839 1)" font-size="23.84" font-weight="normal" fill="#b3b6c3" stroke="#b3b6c3" stroke-width="0.76" stroke-linejoin="round">12/06 00:00</text>
<text transform="translate(3300.12 1026.80) scale(0.9839 1)" font-size="23.84" font-weight="normal" fill="#b3b6c3" stroke="#b3b6c3" stroke-width="0.76" stroke-linejoin="round">12/06 08:00</text>
<rect x="2399.60" y="1110.00" width="27.40" height="9.00" fill="#705da0" rx="2"/>
<text transform="translate(2446.11 1120.40) scale(0.8838 1)" font-size="26.31" font-weight="normal" fill="#c6c7d4" stroke="#c6c7d4" stroke-width="0.85" stroke-linejoin="round">Threads</text>
<text transform="translate(3406.83 1071.00) scale(0.8429 1)" font-size="25.76" font-weight="bold" fill="#33a2e5">current</text>
<text transform="translate(3462.17 1120.60) scale(0.8730 1)" font-size="25.87" font-weight="normal" fill="#c6c7d4" stroke="#c6c7d4" stroke-width="0.86" stroke-linejoin="round">3 K</text>
<rect x="103.50" y="1274.80" width="2389.00" height="273.70" fill="rgba(234,112,112,0.12)"/>
<line x1="103.50" y1="1274.80" x2="2492.50" y2="1274.80" stroke="rgba(150,140,150,0.36)" stroke-width="2.2"/>
<line x1="103.50" y1="1335.10" x2="2492.50" y2="1335.10" stroke="rgba(150,140,150,0.36)" stroke-width="2.2"/>
<line x1="103.50" y1="1396.20" x2="2492.50" y2="1396.20" stroke="rgba(150,140,150,0.36)" stroke-width="2.2"/>
<line x1="103.50" y1="1458.60" x2="2492.50" y2="1458.60" stroke="rgba(150,140,150,0.36)" stroke-width="2.2"/>
<line x1="103.50" y1="1519.20" x2="2492.50" y2="1519.20" stroke="rgba(150,140,150,0.36)" stroke-width="2.2"/>
<line x1="103.50" y1="1580.00" x2="2492.50" y2="1580.00" stroke="rgba(150,140,150,0.36)" stroke-width="2.2"/>
<line x1="299.30" y1="1274.80" x2="299.30" y2="1580.00" stroke="rgba(150,140,150,0.36)" stroke-width="2.2"/>
<line x1="498.57" y1="1274.80" x2="498.57" y2="1580.00" stroke="rgba(150,140,150,0.36)" stroke-width="2.2"/>
<line x1="697.84" y1="1274.80" x2="697.84" y2="1580.00" stroke="rgba(150,140,150,0.36)" stroke-width="2.2"/>
<line x1="897.11" y1="1274.80" x2="897.11" y2="1580.00" stroke="rgba(150,140,150,0.36)" stroke-width="2.2"/>
<line x1="1096.38" y1="1274.80" x2="1096.38" y2="1580.00" stroke="rgba(150,140,150,0.36)" stroke-width="2.2"/>
<line x1="1295.65" y1="1274.80" x2="1295.65" y2="1580.00" stroke="rgba(150,140,150,0.36)" stroke-width="2.2"/>
<line x1="1494.92" y1="1274.80" x2="1494.92" y2="1580.00" stroke="rgba(150,140,150,0.36)" stroke-width="2.2"/>
<line x1="1694.19" y1="1274.80" x2="1694.19" y2="1580.00" stroke="rgba(150,140,150,0.36)" stroke-width="2.2"/>
<line x1="1893.46" y1="1274.80" x2="1893.46" y2="1580.00" stroke="rgba(150,140,150,0.36)" stroke-width="2.2"/>
<line x1="2092.73" y1="1274.80" x2="2092.73" y2="1580.00" stroke="rgba(150,140,150,0.36)" stroke-width="2.2"/>
<line x1="2292.00" y1="1274.80" x2="2292.00" y2="1580.00" stroke="rgba(150,140,150,0.36)" stroke-width="2.2"/>
<line x1="2492.50" y1="1274.80" x2="2492.50" y2="1580.00" stroke="rgba(150,140,150,0.36)" stroke-width="2.2"/>
<line x1="103.50" y1="1548.50" x2="2492.50" y2="1548.50" stroke="#c8392f" stroke-width="4"/>
<line x1="103.50" y1="1570.60" x2="1293.00" y2="1570.60" stroke="#dc923a" stroke-width="3"/>
<line x1="103.50" y1="1577.00" x2="1293.00" y2="1577.00" stroke="#27a050" stroke-width="5.4"/>
<rect x="1293.00" y="1567.60" width="1199.50" height="4.60" fill="#df8236"/>
<rect x="1293.00" y="1572.00" width="1199.50" height="3.80" fill="#e6d3a0"/>
<rect x="1293.00" y="1575.60" width="1199.50" height="2.40" fill="#e6935a"/>
<rect x="1293.00" y="1577.80" width="1199.50" height="4.80" fill="#9c8fa6"/>
<path d="M1293.0 1581.8 L1299.0 1581.9 L1305.0 1582.0 L1311.0 1582.2 L1317.0 1581.9 L1323.0 1582.2 L1329.0 1580.9 L1335.0 1581.6 L1341.0 1582.2 L1347.0 1581.8 L1353.0 1582.2 L1359.0 1581.1 L1365.0 1581.6 L1371.0 1581.2 L1377.0 1581.7 L1383.0 1581.7 L1389.0 1580.9 L1395.0 1581.2 L1401.0 1581.3 L1407.0 1582.2 L1413.0 1582.0 L1419.0 1581.1 L1425.0 1582.0 L1431.0 1581.1 L1437.0 1581.8 L1443.0 1581.1 L1449.0 1580.9 L1455.0 1582.1 L1461.0 1581.2 L1467.0 1581.2 L1473.0 1582.3 L1479.0 1582.1 L1485.0 1581.3 L1491.0 1582.2 L1497.0 1581.7 L1503.0 1581.8 L1509.0 1581.2 L1515.0 1582.2 L1521.0 1581.9 L1527.0 1582.3 L1533.0 1582.2 L1539.0 1581.3 L1545.0 1581.4 L1551.0 1581.1 L1557.0 1581.1 L1563.0 1581.0 L1569.0 1581.3 L1575.0 1581.7 L1581.0 1580.9 L1587.0 1581.8 L1593.0 1581.4 L1599.0 1581.3 L1605.0 1582.0 L1611.0 1581.6 L1617.0 1581.3 L1623.0 1581.6 L1629.0 1581.9 L1635.0 1581.0 L1641.0 1582.3 L1647.0 1580.9 L1653.0 1581.9 L1659.0 1582.1 L1665.0 1580.9 L1671.0 1582.0 L1677.0 1581.4 L1683.0 1581.7 L1689.0 1580.9 L1695.0 1581.0 L1701.0 1581.2 L1707.0 1582.2 L1713.0 1581.2 L1719.0 1582.0 L1725.0 1582.2 L1731.0 1582.2 L1737.0 1581.4 L1743.0 1581.4 L1749.0 1581.6 L1755.0 1582.0 L1761.0 1581.1 L1767.0 1581.9 L1773.0 1582.0 L1779.0 1582.1 L1785.0 1581.0 L1791.0 1582.2 L1797.0 1581.0 L1803.0 1581.4 L1809.0 1581.8 L1815.0 1582.2 L1821.0 1581.4 L1827.0 1582.2 L1833.0 1581.7 L1839.0 1581.3 L1845.0 1581.3 L1851.0 1581.1 L1857.0 1581.0 L1863.0 1581.1 L1869.0 1581.9 L1875.0 1582.3 L1881.0 1581.1 L1887.0 1581.0 L1893.0 1582.3 L1899.0 1581.6 L1905.0 1581.5 L1911.0 1581.2 L1917.0 1581.7 L1923.0 1582.1 L1929.0 1581.5 L1935.0 1581.5 L1941.0 1581.0 L1947.0 1582.2 L1953.0 1580.9 L1959.0 1581.6 L1965.0 1582.1 L1971.0 1581.1 L1977.0 1581.9 L1983.0 1582.2 L1989.0 1581.8 L1995.0 1582.0 L2001.0 1581.0 L2007.0 1581.5 L2013.0 1581.1 L2019.0 1582.1 L2025.0 1581.3 L2031.0 1581.5 L2037.0 1582.3 L2043.0 1582.1 L2049.0 1582.3 L2055.0 1581.5 L2061.0 1581.6 L2067.0 1581.9 L2073.0 1581.6 L2079.0 1581.3 L2085.0 1581.5 L2091.0 1581.1 L2097.0 1581.4 L2103.0 1582.3 L2109.0 1582.2 L2115.0 1581.8 L2121.0 1581.6 L2127.0 1581.4 L2133.0 1581.0 L2139.0 1581.3 L2145.0 1582.0 L2151.0 1582.1 L2157.0 1581.4 L2163.0 1582.0 L2169.0 1582.0 L2175.0 1581.9 L2181.0 1581.8 L2187.0 1582.0 L2193.0 1581.4 L2199.0 1581.9 L2205.0 1581.3 L2211.0 1581.6 L2217.0 1582.0 L2223.0 1581.9 L2229.0 1581.3 L2235.0 1582.2 L2241.0 1581.8 L2247.0 1581.7 L2253.0 1580.9 L2259.0 1581.7 L2265.0 1581.3 L2271.0 1581.8 L2277.0 1581.5 L2283.0 1582.0 L2289.0 1581.8 L2295.0 1582.0 L2301.0 1581.4 L2307.0 1581.8 L2313.0 1581.9 L2319.0 1582.1 L2325.0 1581.4 L2331.0 1582.1 L2337.0 1582.1 L2343.0 1581.9 L2349.0 1582.3 L2355.0 1582.2 L2361.0 1581.6 L2367.0 1581.6 L2373.0 1581.1 L2379.0 1582.1 L2385.0 1582.2 L2391.0 1581.6 L2397.0 1581.9 L2403.0 1581.9 L2409.0 1581.9 L2415.0 1581.1 L2421.0 1582.0 L2427.0 1581.7 L2433.0 1581.8 L2439.0 1581.5 L2445.0 1581.8 L2451.0 1582.0 L2457.0 1581.8 L2463.0 1581.9 L2469.0 1580.9 L2475.0 1581.1 L2481.0 1581.5 L2487.0 1581.8" fill="none" stroke="#7f86a8" stroke-width="1.6" stroke-linejoin="round" opacity="1"/>
<path d="M1293.0 1578.8 L1299.0 1579.5 L1305.0 1579.4 L1311.0 1578.5 L1317.0 1579.2 L1323.0 1578.8 L1329.0 1578.5 L1335.0 1578.6 L1341.0 1578.9 L1347.0 1578.7 L1353.0 1578.7 L1359.0 1578.5 L1365.0 1579.1 L1371.0 1579.0 L1377.0 1579.4 L1383.0 1579.3 L1389.0 1578.8 L1395.0 1579.8 L1401.0 1578.4 L1407.0 1579.0 L1413.0 1578.8 L1419.0 1579.1 L1425.0 1578.6 L1431.0 1579.7 L1437.0 1579.0 L1443.0 1578.5 L1449.0 1579.4 L1455.0 1578.6 L1461.0 1579.3 L1467.0 1578.9 L1473.0 1579.3 L1479.0 1579.9 L1485.0 1579.7 L1491.0 1579.1 L1497.0 1579.7 L1503.0 1579.4 L1509.0 1579.0 L1515.0 1578.6 L1521.0 1579.4 L1527.0 1579.3 L1533.0 1579.9 L1539.0 1579.9 L1545.0 1579.4 L1551.0 1579.0 L1557.0 1579.8 L1563.0 1578.4 L1569.0 1578.6 L1575.0 1579.3 L1581.0 1579.4 L1587.0 1578.6 L1593.0 1579.4 L1599.0 1579.8 L1605.0 1579.0 L1611.0 1579.1 L1617.0 1578.8 L1623.0 1578.9 L1629.0 1580.0 L1635.0 1579.0 L1641.0 1579.9 L1647.0 1579.9 L1653.0 1579.4 L1659.0 1578.8 L1665.0 1580.0 L1671.0 1579.2 L1677.0 1579.1 L1683.0 1578.9 L1689.0 1580.0 L1695.0 1579.2 L1701.0 1578.9 L1707.0 1579.2 L1713.0 1578.6 L1719.0 1579.4 L1725.0 1579.1 L1731.0 1578.9 L1737.0 1579.7 L1743.0 1579.7 L1749.0 1578.4 L1755.0 1579.3 L1761.0 1578.8 L1767.0 1579.9 L1773.0 1579.7 L1779.0 1578.8 L1785.0 1578.8 L1791.0 1578.6 L1797.0 1580.0 L1803.0 1578.9 L1809.0 1579.4 L1815.0 1579.2 L1821.0 1579.4 L1827.0 1579.4 L1833.0 1579.6 L1839.0 1578.6 L1845.0 1579.6 L1851.0 1578.9 L1857.0 1579.3 L1863.0 1578.9 L1869.0 1578.9 L1875.0 1579.2 L1881.0 1579.1 L1887.0 1579.0 L1893.0 1579.6 L1899.0 1579.3 L1905.0 1578.5 L1911.0 1578.8 L1917.0 1579.1 L1923.0 1579.9 L1929.0 1579.8 L1935.0 1579.3 L1941.0 1578.4 L1947.0 1579.6 L1953.0 1579.1 L1959.0 1579.3 L1965.0 1579.5 L1971.0 1579.4 L1977.0 1579.2 L1983.0 1579.9 L1989.0 1579.0 L1995.0 1579.0 L2001.0 1579.8 L2007.0 1578.7 L2013.0 1578.9 L2019.0 1579.7 L2025.0 1578.5 L2031.0 1579.7 L2037.0 1579.5 L2043.0 1579.1 L2049.0 1578.9 L2055.0 1579.6 L2061.0 1579.9 L2067.0 1578.6 L2073.0 1579.2 L2079.0 1579.3 L2085.0 1579.2 L2091.0 1578.9 L2097.0 1578.6 L2103.0 1579.3 L2109.0 1579.7 L2115.0 1578.5 L2121.0 1578.8 L2127.0 1579.7 L2133.0 1579.7 L2139.0 1579.5 L2145.0 1578.4 L2151.0 1579.6 L2157.0 1580.0 L2163.0 1580.0 L2169.0 1579.5 L2175.0 1578.5 L2181.0 1579.7 L2187.0 1578.8 L2193.0 1579.4 L2199.0 1579.9 L2205.0 1579.5 L2211.0 1578.6 L2217.0 1578.9 L2223.0 1579.9 L2229.0 1578.6 L2235.0 1579.4 L2241.0 1579.1 L2247.0 1578.7 L2253.0 1579.4 L2259.0 1578.5 L2265.0 1578.6 L2271.0 1579.0 L2277.0 1578.5 L2283.0 1578.5 L2289.0 1579.3 L2295.0 1579.6 L2301.0 1579.8 L2307.0 1578.6 L2313.0 1579.1 L2319.0 1578.9 L2325.0 1579.4 L2331.0 1579.2 L2337.0 1579.9 L2343.0 1579.0 L2349.0 1578.5 L2355.0 1579.5 L2361.0 1578.6 L2367.0 1579.4 L2373.0 1579.2 L2379.0 1579.9 L2385.0 1579.3 L2391.0 1579.4 L2397.0 1578.8 L2403.0 1579.3 L2409.0 1578.8 L2415.0 1579.6 L2421.0 1579.2 L2427.0 1578.6 L2433.0 1578.8 L2439.0 1579.0 L2445.0 1579.6 L2451.0 1578.7 L2457.0 1579.5 L2463.0 1579.4 L2469.0 1578.5 L2475.0 1579.5 L2481.0 1578.5 L2487.0 1578.6" fill="none" stroke="#b79aa0" stroke-width="2" stroke-linejoin="round" opacity="1"/>
<path d="M1293.0 1577.0 L1299.0 1576.3 L1305.0 1577.5 L1311.0 1576.8 L1317.0 1576.5 L1323.0 1577.3 L1329.0 1576.0 L1335.0 1577.2 L1341.0 1576.0 L1347.0 1576.2 L1353.0 1577.6 L1359.0 1577.1 L1365.0 1576.3 L1371.0 1576.1 L1377.0 1577.7 L1383.0 1577.1 L1389.0 1577.4 L1395.0 1576.2 L1401.0 1577.0 L1407.0 1576.5 L1413.0 1576.3 L1419.0 1576.5 L1425.0 1577.0 L1431.0 1576.5 L1437.0 1576.6 L1443.0 1576.1 L1449.0 1577.4 L1455.0 1577.1 L1461.0 1577.3 L1467.0 1576.7 L1473.0 1577.4 L1479.0 1576.8 L1485.0 1577.0 L1491.0 1576.9 L1497.0 1577.2 L1503.0 1576.6 L1509.0 1576.1 L1515.0 1576.0 L1521.0 1576.3 L1527.0 1576.0 L1533.0 1577.5 L1539.0 1576.8 L1545.0 1577.3 L1551.0 1575.9 L1557.0 1576.7 L1563.0 1577.5 L1569.0 1577.0 L1575.0 1576.7 L1581.0 1576.7 L1587.0 1576.1 L1593.0 1576.2 L1599.0 1576.2 L1605.0 1576.6 L1611.0 1576.6 L1617.0 1577.5 L1623.0 1576.2 L1629.0 1576.4 L1635.0 1576.4 L1641.0 1576.2 L1647.0 1576.4 L1653.0 1576.3 L1659.0 1576.8 L1665.0 1576.0 L1671.0 1577.6 L1677.0 1576.6 L1683.0 1577.6 L1689.0 1577.1 L1695.0 1577.1 L1701.0 1576.7 L1707.0 1577.6 L1713.0 1576.1 L1719.0 1577.1 L1725.0 1576.4 L1731.0 1577.1 L1737.0 1577.2 L1743.0 1576.2 L1749.0 1576.3 L1755.0 1575.9 L1761.0 1576.3 L1767.0 1576.0 L1773.0 1576.6 L1779.0 1577.7 L1785.0 1576.6 L1791.0 1576.5 L1797.0 1576.7 L1803.0 1576.4 L1809.0 1577.2 L1815.0 1577.2 L1821.0 1576.2 L1827.0 1576.3 L1833.0 1577.1 L1839.0 1577.6 L1845.0 1577.1 L1851.0 1576.7 L1857.0 1577.7 L1863.0 1575.9 L1869.0 1576.0 L1875.0 1577.3 L1881.0 1576.6 L1887.0 1576.0 L1893.0 1576.9 L1899.0 1577.7 L1905.0 1576.8 L1911.0 1576.5 L1917.0 1576.1 L1923.0 1576.0 L1929.0 1577.5 L1935.0 1576.8 L1941.0 1577.6 L1947.0 1576.0 L1953.0 1576.3 L1959.0 1576.0 L1965.0 1576.6 L1971.0 1576.0 L1977.0 1576.4 L1983.0 1576.6 L1989.0 1576.5 L1995.0 1576.0 L2001.0 1576.0 L2007.0 1577.6 L2013.0 1576.2 L2019.0 1576.8 L2025.0 1576.6 L2031.0 1576.9 L2037.0 1576.1 L2043.0 1576.5 L2049.0 1576.1 L2055.0 1576.9 L2061.0 1577.6 L2067.0 1577.0 L2073.0 1577.4 L2079.0 1576.3 L2085.0 1575.9 L2091.0 1576.9 L2097.0 1576.8 L2103.0 1576.9 L2109.0 1576.6 L2115.0 1577.0 L2121.0 1577.2 L2127.0 1577.5 L2133.0 1576.5 L2139.0 1576.7 L2145.0 1577.4 L2151.0 1576.3 L2157.0 1576.1 L2163.0 1576.5 L2169.0 1576.1 L2175.0 1577.3 L2181.0 1577.4 L2187.0 1576.5 L2193.0 1576.1 L2199.0 1576.0 L2205.0 1576.3 L2211.0 1576.1 L2217.0 1576.7 L2223.0 1576.9 L2229.0 1576.3 L2235.0 1576.0 L2241.0 1577.2 L2247.0 1576.0 L2253.0 1576.3 L2259.0 1576.4 L2265.0 1576.6 L2271.0 1576.1 L2277.0 1576.7 L2283.0 1576.5 L2289.0 1577.3 L2295.0 1576.9 L2301.0 1577.5 L2307.0 1577.1 L2313.0 1577.3 L2319.0 1576.9 L2325.0 1576.7 L2331.0 1577.4 L2337.0 1577.1 L2343.0 1577.6 L2349.0 1577.2 L2355.0 1577.2 L2361.0 1576.4 L2367.0 1577.4 L2373.0 1576.6 L2379.0 1576.1 L2385.0 1576.0 L2391.0 1576.2 L2397.0 1576.4 L2403.0 1577.1 L2409.0 1576.4 L2415.0 1576.0 L2421.0 1577.3 L2427.0 1576.9 L2433.0 1575.9 L2439.0 1576.0 L2445.0 1576.1 L2451.0 1576.5 L2457.0 1577.4 L2463.0 1577.6 L2469.0 1577.0 L2475.0 1576.3 L2481.0 1576.7 L2487.0 1576.6" fill="none" stroke="#e2803c" stroke-width="2.2" stroke-linejoin="round" opacity="1"/>
<path d="M1293.0 1573.7 L1299.0 1573.0 L1305.0 1574.2 L1311.0 1574.7 L1317.0 1574.5 L1323.0 1573.2 L1329.0 1574.1 L1335.0 1573.3 L1341.0 1574.4 L1347.0 1573.9 L1353.0 1574.9 L1359.0 1574.6 L1365.0 1573.2 L1371.0 1573.6 L1377.0 1574.8 L1383.0 1573.9 L1389.0 1573.9 L1395.0 1573.9 L1401.0 1574.5 L1407.0 1574.9 L1413.0 1574.1 L1419.0 1574.9 L1425.0 1574.2 L1431.0 1573.2 L1437.0 1574.6 L1443.0 1573.8 L1449.0 1573.1 L1455.0 1575.0 L1461.0 1573.1 L1467.0 1574.2 L1473.0 1574.0 L1479.0 1574.8 L1485.0 1573.8 L1491.0 1573.4 L1497.0 1573.6 L1503.0 1573.4 L1509.0 1574.1 L1515.0 1573.7 L1521.0 1574.5 L1527.0 1573.5 L1533.0 1573.7 L1539.0 1573.5 L1545.0 1575.0 L1551.0 1574.7 L1557.0 1574.7 L1563.0 1574.2 L1569.0 1573.8 L1575.0 1573.3 L1581.0 1574.7 L1587.0 1574.0 L1593.0 1573.1 L1599.0 1573.3 L1605.0 1573.2 L1611.0 1574.4 L1617.0 1574.8 L1623.0 1573.4 L1629.0 1574.6 L1635.0 1573.6 L1641.0 1574.4 L1647.0 1574.7 L1653.0 1574.2 L1659.0 1574.6 L1665.0 1573.8 L1671.0 1573.0 L1677.0 1574.0 L1683.0 1574.2 L1689.0 1573.4 L1695.0 1573.8 L1701.0 1573.6 L1707.0 1573.1 L1713.0 1573.6 L1719.0 1573.8 L1725.0 1574.0 L1731.0 1574.4 L1737.0 1573.8 L1743.0 1575.0 L1749.0 1574.6 L1755.0 1574.8 L1761.0 1574.4 L1767.0 1574.3 L1773.0 1574.1 L1779.0 1574.6 L1785.0 1573.7 L1791.0 1574.2 L1797.0 1574.4 L1803.0 1574.0 L1809.0 1573.6 L1815.0 1573.2 L1821.0 1573.2 L1827.0 1573.7 L1833.0 1574.2 L1839.0 1574.5 L1845.0 1574.4 L1851.0 1573.6 L1857.0 1574.9 L1863.0 1573.5 L1869.0 1574.4 L1875.0 1573.1 L1881.0 1574.5 L1887.0 1574.3 L1893.0 1574.9 L1899.0 1574.8 L1905.0 1574.4 L1911.0 1574.7 L1917.0 1574.5 L1923.0 1574.2 L1929.0 1573.4 L1935.0 1574.0 L1941.0 1574.8 L1947.0 1573.5 L1953.0 1574.9 L1959.0 1574.1 L1965.0 1573.8 L1971.0 1573.0 L1977.0 1573.8 L1983.0 1573.4 L1989.0 1574.3 L1995.0 1574.8 L2001.0 1574.8 L2007.0 1574.2 L2013.0 1573.8 L2019.0 1573.2 L2025.0 1574.4 L2031.0 1574.1 L2037.0 1574.4 L2043.0 1573.7 L2049.0 1574.8 L2055.0 1573.4 L2061.0 1573.6 L2067.0 1573.5 L2073.0 1574.2 L2079.0 1574.8 L2085.0 1573.3 L2091.0 1574.3 L2097.0 1574.5 L2103.0 1573.4 L2109.0 1573.1 L2115.0 1574.1 L2121.0 1574.7 L2127.0 1574.8 L2133.0 1574.5 L2139.0 1573.8 L2145.0 1573.9 L2151.0 1574.1 L2157.0 1574.8 L2163.0 1573.6 L2169.0 1573.6 L2175.0 1574.2 L2181.0 1574.9 L2187.0 1573.4 L2193.0 1573.1 L2199.0 1573.2 L2205.0 1574.1 L2211.0 1574.2 L2217.0 1573.4 L2223.0 1573.4 L2229.0 1574.2 L2235.0 1574.3 L2241.0 1574.4 L2247.0 1574.5 L2253.0 1573.1 L2259.0 1574.0 L2265.0 1574.7 L2271.0 1574.9 L2277.0 1573.6 L2283.0 1574.7 L2289.0 1574.3 L2295.0 1574.9 L2301.0 1573.5 L2307.0 1574.4 L2313.0 1574.7 L2319.0 1574.0 L2325.0 1573.2 L2331.0 1573.4 L2337.0 1573.3 L2343.0 1573.2 L2349.0 1573.3 L2355.0 1574.2 L2361.0 1573.2 L2367.0 1574.5 L2373.0 1574.5 L2379.0 1574.6 L2385.0 1574.6 L2391.0 1574.4 L2397.0 1574.8 L2403.0 1574.9 L2409.0 1574.3 L2415.0 1574.9 L2421.0 1573.2 L2427.0 1573.2 L2433.0 1573.1 L2439.0 1573.4 L2445.0 1573.7 L2451.0 1573.9 L2457.0 1574.4 L2463.0 1574.5 L2469.0 1573.2 L2475.0 1573.8 L2481.0 1574.1 L2487.0 1573.8" fill="none" stroke="#d9dba6" stroke-width="2.4" stroke-linejoin="round" opacity="1"/>
<path d="M1293.0 1570.2 L1299.0 1571.2 L1305.0 1570.7 L1311.0 1571.4 L1317.0 1571.0 L1323.0 1571.9 L1329.0 1571.9 L1335.0 1570.1 L1341.0 1571.5 L1347.0 1571.4 L1353.0 1570.6 L1359.0 1570.2 L1365.0 1571.0 L1371.0 1570.7 L1377.0 1571.5 L1383.0 1571.8 L1389.0 1570.8 L1395.0 1570.6 L1401.0 1571.0 L1407.0 1571.4 L1413.0 1571.6 L1419.0 1571.2 L1425.0 1570.6 L1431.0 1570.7 L1437.0 1571.7 L1443.0 1571.0 L1449.0 1570.1 L1455.0 1570.8 L1461.0 1570.5 L1467.0 1571.3 L1473.0 1570.1 L1479.0 1570.5 L1485.0 1570.2 L1491.0 1571.0 L1497.0 1572.0 L1503.0 1571.1 L1509.0 1570.8 L1515.0 1571.9 L1521.0 1570.2 L1527.0 1570.7 L1533.0 1571.6 L1539.0 1570.0 L1545.0 1571.5 L1551.0 1570.7 L1557.0 1570.0 L1563.0 1570.5 L1569.0 1570.9 L1575.0 1570.8 L1581.0 1571.0 L1587.0 1570.1 L1593.0 1570.4 L1599.0 1571.9 L1605.0 1570.9 L1611.0 1570.9 L1617.0 1570.2 L1623.0 1570.6 L1629.0 1571.9 L1635.0 1571.4 L1641.0 1571.0 L1647.0 1570.1 L1653.0 1570.8 L1659.0 1571.6 L1665.0 1570.9 L1671.0 1571.2 L1677.0 1571.8 L1683.0 1571.3 L1689.0 1571.3 L1695.0 1570.1 L1701.0 1570.0 L1707.0 1571.5 L1713.0 1570.8 L1719.0 1571.7 L1725.0 1571.7 L1731.0 1571.8 L1737.0 1570.8 L1743.0 1572.0 L1749.0 1571.5 L1755.0 1571.8 L1761.0 1570.3 L1767.0 1571.6 L1773.0 1570.8 L1779.0 1571.9 L1785.0 1572.0 L1791.0 1570.4 L1797.0 1570.8 L1803.0 1570.5 L1809.0 1570.9 L1815.0 1570.6 L1821.0 1571.3 L1827.0 1570.2 L1833.0 1570.3 L1839.0 1570.9 L1845.0 1570.1 L1851.0 1570.8 L1857.0 1571.8 L1863.0 1571.8 L1869.0 1570.4 L1875.0 1570.0 L1881.0 1571.7 L1887.0 1571.9 L1893.0 1571.2 L1899.0 1570.3 L1905.0 1570.5 L1911.0 1571.8 L1917.0 1571.9 L1923.0 1570.1 L1929.0 1570.4 L1935.0 1570.9 L1941.0 1570.5 L1947.0 1571.5 L1953.0 1570.7 L1959.0 1571.6 L1965.0 1570.3 L1971.0 1571.0 L1977.0 1571.9 L1983.0 1571.4 L1989.0 1570.2 L1995.0 1570.2 L2001.0 1571.3 L2007.0 1570.7 L2013.0 1570.7 L2019.0 1571.0 L2025.0 1571.2 L2031.0 1571.9 L2037.0 1570.5 L2043.0 1571.1 L2049.0 1570.5 L2055.0 1571.1 L2061.0 1571.5 L2067.0 1570.3 L2073.0 1571.0 L2079.0 1571.4 L2085.0 1570.0 L2091.0 1571.5 L2097.0 1570.8 L2103.0 1571.0 L2109.0 1571.2 L2115.0 1571.6 L2121.0 1570.1 L2127.0 1571.0 L2133.0 1570.1 L2139.0 1570.8 L2145.0 1570.7 L2151.0 1570.0 L2157.0 1570.6 L2163.0 1570.9 L2169.0 1571.3 L2175.0 1571.8 L2181.0 1570.7 L2187.0 1571.1 L2193.0 1571.4 L2199.0 1571.9 L2205.0 1571.9 L2211.0 1572.0 L2217.0 1570.6 L2223.0 1570.3 L2229.0 1571.9 L2235.0 1570.2 L2241.0 1570.9 L2247.0 1571.5 L2253.0 1571.1 L2259.0 1570.8 L2265.0 1571.8 L2271.0 1570.6 L2277.0 1571.1 L2283.0 1571.7 L2289.0 1570.3 L2295.0 1570.7 L2301.0 1571.0 L2307.0 1571.1 L2313.0 1570.4 L2319.0 1570.9 L2325.0 1570.1 L2331.0 1570.2 L2337.0 1570.7 L2343.0 1570.3 L2349.0 1571.9 L2355.0 1570.5 L2361.0 1570.6 L2367.0 1571.6 L2373.0 1571.5 L2379.0 1570.5 L2385.0 1571.7 L2391.0 1571.3 L2397.0 1570.8 L2403.0 1571.3 L2409.0 1570.5 L2415.0 1570.5 L2421.0 1571.8 L2427.0 1570.9 L2433.0 1571.8 L2439.0 1570.4 L2445.0 1570.3 L2451.0 1570.1 L2457.0 1571.5 L2463.0 1571.1 L2469.0 1570.0 L2475.0 1570.1 L2481.0 1571.6 L2487.0 1571.0" fill="none" stroke="#e9a85a" stroke-width="2.4" stroke-linejoin="round" opacity="1"/>
<path d="M1293.0 1569.1 L1299.0 1567.6 L1305.0 1568.6 L1311.0 1567.7 L1317.0 1568.8 L1323.0 1568.6 L1329.0 1568.6 L1335.0 1567.9 L1341.0 1569.2 L1347.0 1567.7 L1353.0 1567.6 L1359.0 1568.7 L1365.0 1567.7 L1371.0 1567.6 L1377.0 1568.3 L1383.0 1568.7 L1389.0 1569.1 L1395.0 1568.8 L1401.0 1567.6 L1407.0 1568.7 L1413.0 1569.0 L1419.0 1567.7 L1425.0 1568.9 L1431.0 1568.0 L1437.0 1568.0 L1443.0 1567.5 L1449.0 1568.9 L1455.0 1568.4 L1461.0 1569.1 L1467.0 1568.3 L1473.0 1567.8 L1479.0 1567.9 L1485.0 1568.0 L1491.0 1569.2 L1497.0 1567.9 L1503.0 1567.7 L1509.0 1568.1 L1515.0 1567.6 L1521.0 1568.3 L1527.0 1568.6 L1533.0 1568.7 L1539.0 1567.8 L1545.0 1567.7 L1551.0 1568.4 L1557.0 1568.7 L1563.0 1568.3 L1569.0 1568.5 L1575.0 1569.1 L1581.0 1567.8 L1587.0 1568.0 L1593.0 1568.4 L1599.0 1568.5 L1605.0 1569.1 L1611.0 1568.5 L1617.0 1568.7 L1623.0 1568.3 L1629.0 1568.9 L1635.0 1569.0 L1641.0 1568.0 L1647.0 1567.7 L1653.0 1568.0 L1659.0 1568.1 L1665.0 1569.1 L1671.0 1568.0 L1677.0 1568.6 L1683.0 1568.7 L1689.0 1569.2 L1695.0 1567.7 L1701.0 1568.9 L1707.0 1568.1 L1713.0 1567.7 L1719.0 1568.6 L1725.0 1569.0 L1731.0 1568.5 L1737.0 1567.6 L1743.0 1569.2 L1749.0 1568.2 L1755.0 1568.6 L1761.0 1568.8 L1767.0 1568.0 L1773.0 1568.2 L1779.0 1568.1 L1785.0 1567.7 L1791.0 1567.6 L1797.0 1568.8 L1803.0 1568.2 L1809.0 1569.1 L1815.0 1567.6 L1821.0 1568.0 L1827.0 1567.8 L1833.0 1569.2 L1839.0 1568.9 L1845.0 1569.1 L1851.0 1568.4 L1857.0 1567.7 L1863.0 1568.2 L1869.0 1567.9 L1875.0 1567.5 L1881.0 1568.5 L1887.0 1568.0 L1893.0 1567.7 L1899.0 1568.4 L1905.0 1569.2 L1911.0 1569.2 L1917.0 1568.3 L1923.0 1567.7 L1929.0 1568.9 L1935.0 1567.7 L1941.0 1568.5 L1947.0 1567.7 L1953.0 1569.3 L1959.0 1568.5 L1965.0 1568.3 L1971.0 1568.0 L1977.0 1568.5 L1983.0 1569.3 L1989.0 1568.3 L1995.0 1567.9 L2001.0 1568.4 L2007.0 1569.2 L2013.0 1568.2 L2019.0 1568.6 L2025.0 1569.2 L2031.0 1568.1 L2037.0 1569.0 L2043.0 1568.5 L2049.0 1567.8 L2055.0 1567.6 L2061.0 1569.2 L2067.0 1568.3 L2073.0 1568.3 L2079.0 1569.2 L2085.0 1568.5 L2091.0 1568.4 L2097.0 1568.0 L2103.0 1568.8 L2109.0 1568.0 L2115.0 1568.3 L2121.0 1568.9 L2127.0 1568.6 L2133.0 1567.7 L2139.0 1567.9 L2145.0 1568.8 L2151.0 1568.8 L2157.0 1567.7 L2163.0 1569.3 L2169.0 1567.7 L2175.0 1567.8 L2181.0 1567.7 L2187.0 1568.3 L2193.0 1568.6 L2199.0 1569.0 L2205.0 1567.8 L2211.0 1568.8 L2217.0 1567.7 L2223.0 1568.5 L2229.0 1568.0 L2235.0 1568.1 L2241.0 1567.6 L2247.0 1568.8 L2253.0 1567.7 L2259.0 1568.9 L2265.0 1568.1 L2271.0 1568.6 L2277.0 1568.7 L2283.0 1568.4 L2289.0 1569.1 L2295.0 1569.2 L2301.0 1568.0 L2307.0 1568.1 L2313.0 1569.1 L2319.0 1567.7 L2325.0 1568.3 L2331.0 1568.2 L2337.0 1569.3 L2343.0 1567.7 L2349.0 1568.7 L2355.0 1568.9 L2361.0 1568.8 L2367.0 1567.5 L2373.0 1569.2 L2379.0 1568.1 L2385.0 1569.0 L2391.0 1568.7 L2397.0 1568.3 L2403.0 1569.0 L2409.0 1568.7 L2415.0 1568.1 L2421.0 1568.8 L2427.0 1568.4 L2433.0 1568.8 L2439.0 1568.6 L2445.0 1568.9 L2451.0 1567.8 L2457.0 1568.4 L2463.0 1567.5 L2469.0 1568.9 L2475.0 1568.9 L2481.0 1569.0 L2487.0 1567.6" fill="none" stroke="#d9772c" stroke-width="2.2" stroke-linejoin="round" opacity="1"/>
<path d="M1293.0 1567.3 L1297.0 1567.2 L1301.0 1566.5 L1305.0 1566.7 L1309.0 1568.1 L1313.0 1567.8 L1317.0 1566.7 L1321.0 1567.8 L1325.0 1567.5 L1329.0 1567.0 L1333.0 1567.5 L1337.0 1566.7 L1341.0 1566.8 L1345.0 1566.3 L1349.0 1567.5 L1353.0 1567.3 L1357.0 1567.6 L1361.0 1567.2 L1365.0 1567.1 L1369.0 1566.9 L1373.0 1567.6 L1377.0 1567.0 L1381.0 1567.4 L1385.0 1567.7 L1389.0 1567.1 L1393.0 1567.5 L1397.0 1566.4 L1401.0 1566.8 L1405.0 1567.8 L1409.0 1566.6 L1413.0 1566.4 L1417.0 1566.3 L1421.0 1567.7 L1425.0 1566.5 L1429.0 1567.1 L1433.0 1567.1 L1437.0 1567.7 L1441.0 1567.2 L1445.0 1567.2 L1449.0 1566.3 L1453.0 1567.7 L1457.0 1567.7 L1461.0 1567.4 L1465.0 1567.8 L1469.0 1567.4 L1473.0 1567.6 L1477.0 1567.8 L1481.0 1567.4 L1485.0 1566.3 L1489.0 1567.9 L1493.0 1568.1 L1497.0 1566.7 L1501.0 1566.4 L1505.0 1566.9 L1509.0 1566.5 L1513.0 1567.0 L1517.0 1566.5 L1521.0 1566.7 L1525.0 1566.3 L1529.0 1567.1 L1533.0 1566.8 L1537.0 1567.6 L1541.0 1567.0 L1545.0 1566.6 L1549.0 1568.0 L1553.0 1567.9 L1557.0 1567.5 L1561.0 1566.7 L1565.0 1567.0 L1569.0 1567.1 L1573.0 1567.0 L1577.0 1566.3 L1581.0 1567.1 L1585.0 1567.7 L1589.0 1567.5 L1593.0 1567.8 L1597.0 1567.5 L1601.0 1567.7 L1605.0 1567.9 L1609.0 1568.0 L1613.0 1567.7 L1617.0 1567.0 L1621.0 1567.5 L1625.0 1567.5 L1629.0 1567.9 L1633.0 1567.6 L1637.0 1567.1 L1641.0 1566.6 L1645.0 1566.9 L1649.0 1566.8 L1653.0 1567.5 L1657.0 1567.7 L1661.0 1566.6 L1665.0 1567.3 L1669.0 1567.8 L1673.0 1567.0 L1677.0 1566.5 L1681.0 1567.4 L1685.0 1567.0 L1689.0 1566.6 L1693.0 1566.8 L1697.0 1566.3 L1701.0 1566.6 L1705.0 1567.1 L1709.0 1566.5 L1713.0 1566.3 L1717.0 1567.3 L1721.0 1568.0 L1725.0 1567.8 L1729.0 1566.9 L1733.0 1568.0 L1737.0 1566.4 L1741.0 1566.6 L1745.0 1566.3 L1749.0 1566.4 L1753.0 1567.4 L1757.0 1567.7 L1761.0 1567.2 L1765.0 1567.7 L1769.0 1567.1 L1773.0 1568.0 L1777.0 1567.4 L1781.0 1567.3 L1785.0 1566.6 L1789.0 1567.1 L1793.0 1567.1 L1797.0 1567.8 L1801.0 1566.7 L1805.0 1566.8 L1809.0 1567.8 L1813.0 1566.4 L1817.0 1567.3 L1821.0 1566.7 L1825.0 1567.5 L1829.0 1567.4 L1833.0 1566.5 L1837.0 1567.6 L1841.0 1567.0 L1845.0 1566.9 L1849.0 1567.8 L1853.0 1567.7 L1857.0 1566.9 L1861.0 1567.5 L1865.0 1566.5 L1869.0 1567.2 L1873.0 1566.4 L1877.0 1567.5 L1881.0 1567.9 L1885.0 1567.4 L1889.0 1566.4 L1893.0 1567.2 L1897.0 1567.1 L1901.0 1567.1 L1905.0 1566.6 L1909.0 1566.8 L1913.0 1567.1 L1917.0 1566.4 L1921.0 1567.5 L1925.0 1566.7 L1929.0 1566.8 L1933.0 1566.5 L1937.0 1566.8 L1941.0 1568.0 L1945.0 1566.8 L1949.0 1566.5 L1953.0 1561.9 L1957.0 1563.0 L1961.0 1561.5 L1965.0 1561.9 L1969.0 1561.7 L1973.0 1562.5 L1977.0 1562.1 L1981.0 1566.5 L1985.0 1567.9 L1989.0 1566.9 L1993.0 1567.5 L1997.0 1567.1 L2001.0 1567.9 L2005.0 1566.4 L2009.0 1561.7 L2013.0 1561.8 L2017.0 1566.8 L2021.0 1567.8 L2025.0 1567.2 L2029.0 1566.9 L2033.0 1567.2 L2037.0 1567.8 L2041.0 1567.3 L2045.0 1567.1 L2049.0 1567.5 L2053.0 1567.4 L2057.0 1567.0 L2061.0 1567.1 L2065.0 1566.5 L2069.0 1567.1 L2073.0 1567.9 L2077.0 1566.9 L2081.0 1567.0 L2085.0 1567.4 L2089.0 1567.4 L2093.0 1566.6 L2097.0 1567.1 L2101.0 1567.6 L2105.0 1566.4 L2109.0 1566.5 L2113.0 1567.7 L2117.0 1567.9 L2121.0 1566.4 L2125.0 1566.4 L2129.0 1567.4 L2133.0 1562.6 L2137.0 1563.3 L2141.0 1562.2 L2145.0 1562.9 L2149.0 1562.4 L2153.0 1562.7 L2157.0 1563.3 L2161.0 1563.0 L2165.0 1563.6 L2169.0 1563.6 L2173.0 1563.2 L2177.0 1563.6 L2181.0 1562.4 L2185.0 1562.9 L2189.0 1562.7 L2193.0 1563.1 L2197.0 1562.0 L2201.0 1563.1 L2205.0 1561.7 L2209.0 1561.9 L2213.0 1561.8 L2217.0 1561.9 L2221.0 1561.3 L2225.0 1562.8 L2229.0 1563.5 L2233.0 1562.2 L2237.0 1563.4 L2241.0 1563.4 L2245.0 1562.9 L2249.0 1562.6 L2253.0 1562.4 L2257.0 1562.8 L2261.0 1563.8 L2265.0 1562.8 L2269.0 1562.6 L2273.0 1563.2 L2277.0 1562.9 L2281.0 1563.2 L2285.0 1562.9 L2289.0 1562.6 L2293.0 1562.2 L2297.0 1563.6 L2301.0 1563.3 L2305.0 1562.5 L2309.0 1563.0 L2313.0 1563.1 L2317.0 1563.0 L2321.0 1563.7 L2325.0 1563.5 L2329.0 1562.6 L2333.0 1562.6 L2337.0 1562.9 L2341.0 1561.8 L2345.0 1562.8 L2349.0 1560.9 L2353.0 1561.5 L2357.0 1561.1 L2361.0 1561.8 L2365.0 1566.4 L2369.0 1566.7 L2373.0 1568.1 L2377.0 1567.7 L2381.0 1566.7 L2385.0 1567.1 L2389.0 1566.4 L2393.0 1566.5 L2397.0 1566.6 L2401.0 1568.1 L2405.0 1566.9 L2409.0 1566.7 L2413.0 1566.4 L2417.0 1566.5 L2421.0 1568.1 L2425.0 1567.6 L2429.0 1568.0 L2433.0 1567.8 L2437.0 1567.7 L2441.0 1566.8 L2445.0 1566.6 L2449.0 1566.8 L2453.0 1566.4 L2457.0 1566.6 L2461.0 1567.6 L2465.0 1567.2 L2469.0 1566.3 L2473.0 1566.8 L2477.0 1567.8 L2481.0 1567.8 L2485.0 1567.6 L2489.0 1567.6" fill="none" stroke="#b8672a" stroke-width="2.2" stroke-linejoin="round" opacity="1"/>
<path d="M1294 1566 C1298 1560 1306 1561 1312 1562 S1322 1560 1325 1566 M1296 1568 C1304 1565 1316 1566 1324 1568" fill="none" stroke="#c9a52a" stroke-width="1.8"/>
<path d="M2364 1566 C2368 1561 2376 1561 2380 1563 S2388 1561 2390 1567" fill="none" stroke="#b7a021" stroke-width="1.8"/>
<circle cx="1593.3" cy="1578.5" r="2.6" fill="#5ecbf0"/>
<circle cx="1476.7" cy="1577.9" r="2.6" fill="#5ecbf0"/>
<circle cx="1428.9" cy="1576.8" r="2.6" fill="#5ecbf0"/>
<circle cx="2490.5" cy="1576.7" r="2.6" fill="#5ecbf0"/>
<circle cx="2075.5" cy="1577.3" r="2.6" fill="#5ecbf0"/>
<circle cx="1856.3" cy="1577.4" r="2.6" fill="#5ecbf0"/>
<circle cx="1553.3" cy="1578.2" r="2.6" fill="#5ecbf0"/>
<circle cx="1434.0" cy="1576.8" r="2.6" fill="#5ecbf0"/>
<circle cx="1353.2" cy="1576.8" r="2.6" fill="#5ecbf0"/>
<circle cx="1803.5" cy="1578.4" r="2.6" fill="#5ecbf0"/>
<circle cx="1770.3" cy="1576.5" r="2.6" fill="#5ecbf0"/>
<circle cx="1630.1" cy="1578.6" r="2.6" fill="#5ecbf0"/>
<circle cx="1403.3" cy="1577.7" r="2.6" fill="#5ecbf0"/>
<circle cx="1768.1" cy="1577.8" r="2.6" fill="#5ecbf0"/>
<circle cx="1723.1" cy="1577.9" r="2.6" fill="#5ecbf0"/>
<circle cx="1907.9" cy="1577.8" r="2.6" fill="#5ecbf0"/>
<circle cx="2376.9" cy="1577.6" r="2.6" fill="#5ecbf0"/>
<circle cx="1495.1" cy="1576.4" r="2.6" fill="#5ecbf0"/>
<circle cx="2428.8" cy="1577.4" r="2.6" fill="#5ecbf0"/>
<circle cx="1555.2" cy="1578.5" r="2.6" fill="#5ecbf0"/>
<circle cx="2002.5" cy="1577.9" r="2.6" fill="#5ecbf0"/>
<circle cx="2353.2" cy="1576.9" r="2.6" fill="#5ecbf0"/>
<circle cx="1744.3" cy="1578.3" r="2.6" fill="#5ecbf0"/>
<circle cx="1486.8" cy="1578.0" r="2.6" fill="#5ecbf0"/>
<circle cx="1443.4" cy="1577.9" r="2.6" fill="#5ecbf0"/>
<circle cx="2145.5" cy="1578.5" r="2.6" fill="#5ecbf0"/>
<circle cx="2309.7" cy="1577.4" r="2.6" fill="#5ecbf0"/>
<circle cx="1559.6" cy="1576.6" r="2.6" fill="#5ecbf0"/>
<circle cx="1944.1" cy="1577.4" r="2.6" fill="#5ecbf0"/>
<circle cx="1413.0" cy="1578.4" r="2.6" fill="#5ecbf0"/>
<circle cx="1919.4" cy="1577.9" r="2.6" fill="#5ecbf0"/>
<circle cx="1585.5" cy="1576.8" r="2.6" fill="#5ecbf0"/>
<circle cx="1343.8" cy="1577.0" r="2.6" fill="#5ecbf0"/>
<circle cx="1639.9" cy="1577.2" r="2.6" fill="#5ecbf0"/>
<circle cx="1767.8" cy="1578.2" r="2.6" fill="#5ecbf0"/>
<circle cx="2365.4" cy="1576.6" r="2.6" fill="#5ecbf0"/>
<circle cx="1790.3" cy="1576.6" r="2.6" fill="#5ecbf0"/>
<circle cx="2100.3" cy="1578.5" r="2.6" fill="#5ecbf0"/>
<circle cx="1564.4" cy="1578.0" r="2.6" fill="#5ecbf0"/>
<circle cx="1678.5" cy="1576.2" r="2.6" fill="#5ecbf0"/>
<circle cx="2217.7" cy="1577.0" r="2.6" fill="#5ecbf0"/>
<circle cx="1527.6" cy="1577.2" r="2.6" fill="#5ecbf0"/>
<circle cx="1599.1" cy="1577.2" r="2.6" fill="#5ecbf0"/>
<circle cx="1848.1" cy="1577.2" r="2.6" fill="#5ecbf0"/>
<circle cx="2013.6" cy="1576.9" r="2.6" fill="#5ecbf0"/>
<circle cx="1440.5" cy="1576.4" r="2.6" fill="#5ecbf0"/>
<circle cx="1453.7" cy="1577.5" r="2.6" fill="#5ecbf0"/>
<circle cx="1748.3" cy="1578.1" r="2.6" fill="#5ecbf0"/>
<circle cx="1916.5" cy="1577.9" r="2.6" fill="#5ecbf0"/>
<circle cx="2468.4" cy="1576.4" r="2.6" fill="#5ecbf0"/>
<circle cx="1349.7" cy="1576.5" r="2.6" fill="#5ecbf0"/>
<circle cx="1778.7" cy="1577.6" r="2.6" fill="#5ecbf0"/>
<circle cx="2193.9" cy="1577.0" r="2.6" fill="#5ecbf0"/>
<circle cx="2450.8" cy="1576.2" r="2.6" fill="#5ecbf0"/>
<circle cx="2300.6" cy="1576.7" r="2.6" fill="#5ecbf0"/>
<circle cx="2346.5" cy="1576.3" r="2.6" fill="#5ecbf0"/>
<circle cx="2451.0" cy="1578.0" r="2.6" fill="#5ecbf0"/>
<circle cx="2480.4" cy="1577.6" r="2.6" fill="#5ecbf0"/>
<circle cx="1536.5" cy="1578.5" r="2.6" fill="#5ecbf0"/>
<circle cx="1842.8" cy="1576.4" r="2.6" fill="#5ecbf0"/>
<circle cx="2033.2" cy="1577.4" r="2.6" fill="#5ecbf0"/>
<circle cx="1879.6" cy="1576.6" r="2.6" fill="#5ecbf0"/>
<circle cx="1471.7" cy="1577.6" r="2.6" fill="#5ecbf0"/>
<circle cx="1855.8" cy="1576.5" r="2.6" fill="#5ecbf0"/>
<circle cx="1840.5" cy="1577.9" r="2.6" fill="#5ecbf0"/>
<circle cx="2161.0" cy="1577.3" r="2.6" fill="#5ecbf0"/>
<circle cx="1787.3" cy="1577.1" r="2.6" fill="#5ecbf0"/>
<circle cx="1591.9" cy="1576.7" r="2.6" fill="#5ecbf0"/>
<circle cx="1848.3" cy="1576.5" r="2.6" fill="#5ecbf0"/>
<circle cx="2172.3" cy="1577.9" r="2.6" fill="#5ecbf0"/>
<circle cx="2039.1" cy="1574.2" r="2.3" fill="#f7cdb5"/>
<circle cx="1752.2" cy="1577.0" r="2.3" fill="#f7cdb5"/>
<circle cx="1438.2" cy="1580.8" r="2.3" fill="#f7cdb5"/>
<circle cx="2206.2" cy="1577.5" r="2.3" fill="#f7cdb5"/>
<circle cx="2147.6" cy="1575.4" r="2.3" fill="#f7cdb5"/>
<circle cx="1596.0" cy="1577.7" r="2.3" fill="#f7cdb5"/>
<circle cx="2192.6" cy="1578.5" r="2.3" fill="#f7cdb5"/>
<circle cx="1337.8" cy="1578.3" r="2.3" fill="#f7cdb5"/>
<circle cx="2383.8" cy="1579.2" r="2.3" fill="#f7cdb5"/>
<circle cx="2405.5" cy="1580.9" r="2.3" fill="#f7cdb5"/>
<circle cx="1589.3" cy="1576.1" r="2.3" fill="#f7cdb5"/>
<circle cx="1964.6" cy="1580.8" r="2.3" fill="#f7cdb5"/>
<circle cx="1758.1" cy="1580.6" r="2.3" fill="#f7cdb5"/>
<circle cx="2316.1" cy="1577.6" r="2.3" fill="#f7cdb5"/>
<circle cx="2054.8" cy="1580.7" r="2.3" fill="#f7cdb5"/>
<circle cx="2238.2" cy="1576.1" r="2.3" fill="#f7cdb5"/>
<circle cx="2310.6" cy="1575.4" r="2.3" fill="#f7cdb5"/>
<circle cx="1759.0" cy="1580.7" r="2.3" fill="#f7cdb5"/>
<circle cx="2312.2" cy="1576.2" r="2.3" fill="#f7cdb5"/>
<circle cx="1666.8" cy="1578.3" r="2.3" fill="#f7cdb5"/>
<circle cx="2307.0" cy="1578.8" r="2.3" fill="#f7cdb5"/>
<circle cx="2415.3" cy="1579.1" r="2.3" fill="#f7cdb5"/>
<circle cx="2281.9" cy="1578.2" r="2.3" fill="#f7cdb5"/>
<circle cx="1750.0" cy="1577.0" r="2.3" fill="#f7cdb5"/>
<circle cx="1898.1" cy="1577.7" r="2.3" fill="#f7cdb5"/>
<circle cx="2301.9" cy="1575.9" r="2.3" fill="#f7cdb5"/>
<circle cx="1409.6" cy="1579.1" r="2.3" fill="#f7cdb5"/>
<circle cx="1644.1" cy="1576.9" r="2.3" fill="#f7cdb5"/>
<circle cx="1465.7" cy="1579.8" r="2.3" fill="#f7cdb5"/>
<circle cx="1647.6" cy="1576.0" r="2.3" fill="#f7cdb5"/>
<circle cx="2262.5" cy="1577.5" r="2.3" fill="#f7cdb5"/>
<circle cx="1651.6" cy="1580.2" r="2.3" fill="#f7cdb5"/>
<circle cx="1807.5" cy="1576.5" r="2.3" fill="#f7cdb5"/>
<circle cx="2449.4" cy="1579.5" r="2.3" fill="#f7cdb5"/>
<circle cx="2196.6" cy="1575.7" r="2.3" fill="#f7cdb5"/>
<circle cx="2273.0" cy="1578.2" r="2.3" fill="#f7cdb5"/>
<circle cx="2292.1" cy="1576.6" r="2.3" fill="#f7cdb5"/>
<circle cx="2235.3" cy="1579.6" r="2.3" fill="#f7cdb5"/>
<circle cx="1779.8" cy="1578.6" r="2.3" fill="#f7cdb5"/>
<circle cx="2234.7" cy="1581.0" r="2.3" fill="#f7cdb5"/>
<circle cx="2397.3" cy="1579.5" r="2.3" fill="#f7cdb5"/>
<circle cx="1488.6" cy="1578.3" r="2.3" fill="#f7cdb5"/>
<circle cx="2124.3" cy="1574.6" r="2.3" fill="#f7cdb5"/>
<circle cx="1866.5" cy="1580.1" r="2.3" fill="#f7cdb5"/>
<circle cx="2379.8" cy="1580.5" r="2.3" fill="#f7cdb5"/>
<circle cx="1437.5" cy="1578.2" r="2.3" fill="#f7cdb5"/>
<circle cx="2333.0" cy="1578.6" r="2.3" fill="#f7cdb5"/>
<circle cx="1700.9" cy="1574.3" r="2.3" fill="#f7cdb5"/>
<circle cx="2396.5" cy="1580.0" r="2.3" fill="#f7cdb5"/>
<circle cx="2087.9" cy="1576.6" r="2.3" fill="#f7cdb5"/>
<circle cx="2302.6" cy="1574.3" r="2.4" fill="#cfe6b0"/>
<circle cx="2189.6" cy="1573.4" r="2.4" fill="#cfe6b0"/>
<circle cx="1747.9" cy="1572.2" r="2.4" fill="#cfe6b0"/>
<circle cx="1789.5" cy="1572.3" r="2.4" fill="#cfe6b0"/>
<circle cx="1966.6" cy="1571.5" r="2.4" fill="#cfe6b0"/>
<circle cx="2185.9" cy="1572.4" r="2.4" fill="#cfe6b0"/>
<circle cx="1574.0" cy="1572.0" r="2.4" fill="#cfe6b0"/>
<circle cx="1824.1" cy="1572.7" r="2.4" fill="#cfe6b0"/>
<circle cx="2252.2" cy="1571.4" r="2.4" fill="#cfe6b0"/>
<circle cx="1642.5" cy="1572.2" r="2.4" fill="#cfe6b0"/>
<circle cx="1592.5" cy="1574.0" r="2.4" fill="#cfe6b0"/>
<circle cx="1518.8" cy="1571.2" r="2.4" fill="#cfe6b0"/>
<circle cx="2005.6" cy="1573.9" r="2.4" fill="#cfe6b0"/>
<circle cx="2298.9" cy="1573.2" r="2.4" fill="#cfe6b0"/>
<circle cx="1756.0" cy="1574.5" r="2.4" fill="#cfe6b0"/>
<circle cx="2202.0" cy="1572.9" r="2.4" fill="#cfe6b0"/>
<circle cx="2013.2" cy="1574.7" r="2.4" fill="#cfe6b0"/>
<circle cx="2486.6" cy="1574.7" r="2.4" fill="#cfe6b0"/>
<circle cx="1544.5" cy="1572.3" r="2.4" fill="#cfe6b0"/>
<circle cx="1844.3" cy="1571.7" r="2.4" fill="#cfe6b0"/>
<circle cx="2230.3" cy="1571.2" r="2.4" fill="#cfe6b0"/>
<circle cx="2366.9" cy="1573.3" r="2.4" fill="#cfe6b0"/>
<circle cx="2068.7" cy="1572.7" r="2.4" fill="#cfe6b0"/>
<circle cx="2420.3" cy="1573.3" r="2.4" fill="#cfe6b0"/>
<circle cx="2376.8" cy="1574.7" r="2.4" fill="#cfe6b0"/>
<circle cx="2154.1" cy="1574.9" r="2.4" fill="#cfe6b0"/>
<circle cx="1824" cy="1563.5" r="2.6" fill="#f3c9ae"/>
<circle cx="1830" cy="1563.1" r="2.6" fill="#f3c9ae"/>
<circle cx="1840" cy="1564.5" r="2.6" fill="#f3c9ae"/>
<circle cx="1850" cy="1563.6" r="2.6" fill="#f3c9ae"/>
<circle cx="1866" cy="1562.9" r="2.6" fill="#f3c9ae"/>
<circle cx="1870" cy="1564.0" r="2.6" fill="#f3c9ae"/>
<circle cx="1929" cy="1563.4" r="2.6" fill="#f3c9ae"/>
<circle cx="1936" cy="1562.4" r="2.6" fill="#f3c9ae"/>
<circle cx="2451" cy="1564.5" r="2.6" fill="#f3c9ae"/>
<circle cx="2483" cy="1563.5" r="2.6" fill="#f3c9ae"/>
<circle cx="1411.5" cy="1292.2" r="2.6" fill="#d858c4"/>
<circle cx="1478.1" cy="1292.2" r="2.6" fill="#d858c4"/>
<circle cx="1530.1" cy="1292.2" r="2.6" fill="#d858c4"/>
<circle cx="1571.5" cy="1292.2" r="2.6" fill="#d858c4"/>
<circle cx="1606.3" cy="1292.2" r="2.6" fill="#d858c4"/>
<circle cx="1636.1" cy="1292.2" r="2.6" fill="#d858c4"/>
<circle cx="1692.6" cy="1292.2" r="2.6" fill="#d858c4"/>
<circle cx="1728.9" cy="1292.2" r="2.6" fill="#d858c4"/>
<circle cx="1768.8" cy="1292.2" r="2.6" fill="#d858c4"/>
<circle cx="1805.6" cy="1292.2" r="2.6" fill="#d858c4"/>
<circle cx="1835.4" cy="1292.2" r="2.6" fill="#d858c4"/>
<circle cx="1866.7" cy="1292.2" r="2.6" fill="#d858c4"/>
<circle cx="1890.4" cy="1292.2" r="2.6" fill="#d858c4"/>
<circle cx="1918.7" cy="1292.2" r="2.6" fill="#d858c4"/>
<circle cx="1941.9" cy="1292.2" r="2.6" fill="#d858c4"/>
<circle cx="1973.2" cy="1292.2" r="2.6" fill="#d858c4"/>
<circle cx="2015.1" cy="1292.2" r="2.6" fill="#d858c4"/>
<circle cx="2052.9" cy="1292.2" r="2.6" fill="#d858c4"/>
<circle cx="2089.3" cy="1292.2" r="2.6" fill="#d858c4"/>
<circle cx="2126.1" cy="1294.7" r="2.6" fill="#d858c4"/>
<circle cx="2167.5" cy="1297.3" r="2.6" fill="#d858c4"/>
<circle cx="2207.4" cy="1299.8" r="2.6" fill="#d858c4"/>
<circle cx="2252.3" cy="1302.8" r="2.6" fill="#d858c4"/>
<circle cx="2295.7" cy="1305.3" r="2.6" fill="#d858c4"/>
<circle cx="2337.1" cy="1307.9" r="2.6" fill="#d858c4"/>
<circle cx="2388.5" cy="1310.4" r="2.6" fill="#d858c4"/>
<circle cx="2444.5" cy="1312.9" r="2.6" fill="#d858c4"/>
<line x1="1292.60" y1="1271.80" x2="1292.60" y2="1582.00" stroke="#22a9c8" stroke-width="2.6" stroke-dasharray="4.2 5.5" opacity="0.9"/>
<path d="M1283.4 1595.2 L1292.6 1583.6 L1301.8 1595.2 Z" fill="#0dbde6"/>
<text transform="translate(50.06 1281.70) scale(0.9898 1)" font-size="22.97" font-weight="normal" fill="#b3b6c3" stroke="#b3b6c3" stroke-width="0.76" stroke-linejoin="round">50 s</text>
<text transform="translate(50.05 1342.00) scale(0.9900 1)" font-size="22.97" font-weight="normal" fill="#b3b6c3" stroke="#b3b6c3" stroke-width="0.76" stroke-linejoin="round">40 s</text>
<text transform="translate(50.06 1403.10) scale(0.9898 1)" font-size="22.97" font-weight="normal" fill="#b3b6c3" stroke="#b3b6c3" stroke-width="0.76" stroke-linejoin="round">30 s</text>
<text transform="translate(50.07 1465.50) scale(0.9897 1)" font-size="22.97" font-weight="normal" fill="#b3b6c3" stroke="#b3b6c3" stroke-width="0.76" stroke-linejoin="round">20 s</text>
<text transform="translate(50.08 1526.10) scale(0.9894 1)" font-size="22.97" font-weight="normal" fill="#b3b6c3" stroke="#b3b6c3" stroke-width="0.76" stroke-linejoin="round">10 s</text>
<text transform="translate(43.69 1586.90) scale(0.9921 1)" font-size="22.97" font-weight="normal" fill="#b3b6c3" stroke="#b3b6c3" stroke-width="0.76" stroke-linejoin="round">0 ms</text>
<text transform="translate(237.12 1630.40) scale(0.9806 1)" font-size="23.84" font-weight="normal" fill="#b3b6c3" stroke="#b3b6c3" stroke-width="0.76" stroke-linejoin="round">12/04 16:00</text>
<text transform="translate(436.39 1630.40) scale(0.9806 1)" font-size="23.84" font-weight="normal" fill="#b3b6c3" stroke="#b3b6c3" stroke-width="0.76" stroke-linejoin="round">12/04 20:00</text>
<text transform="translate(635.66 1630.40) scale(0.9806 1)" font-size="23.84" font-weight="normal" fill="#b3b6c3" stroke="#b3b6c3" stroke-width="0.76" stroke-linejoin="round">12/05 00:00</text>
<text transform="translate(834.93 1630.40) scale(0.9806 1)" font-size="23.84" font-weight="normal" fill="#b3b6c3" stroke="#b3b6c3" stroke-width="0.76" stroke-linejoin="round">12/05 04:00</text>
<text transform="translate(1034.20 1630.40) scale(0.9806 1)" font-size="23.84" font-weight="normal" fill="#b3b6c3" stroke="#b3b6c3" stroke-width="0.76" stroke-linejoin="round">12/05 08:00</text>
<text transform="translate(1233.47 1630.40) scale(0.9806 1)" font-size="23.84" font-weight="normal" fill="#b3b6c3" stroke="#b3b6c3" stroke-width="0.76" stroke-linejoin="round">12/05 12:00</text>
<text transform="translate(1432.74 1630.40) scale(0.9806 1)" font-size="23.84" font-weight="normal" fill="#b3b6c3" stroke="#b3b6c3" stroke-width="0.76" stroke-linejoin="round">12/05 16:00</text>
<text transform="translate(1632.01 1630.40) scale(0.9806 1)" font-size="23.84" font-weight="normal" fill="#b3b6c3" stroke="#b3b6c3" stroke-width="0.76" stroke-linejoin="round">12/05 20:00</text>
<text transform="translate(1831.28 1630.40) scale(0.9806 1)" font-size="23.84" font-weight="normal" fill="#b3b6c3" stroke="#b3b6c3" stroke-width="0.76" stroke-linejoin="round">12/06 00:00</text>
<text transform="translate(2030.55 1630.40) scale(0.9806 1)" font-size="23.84" font-weight="normal" fill="#b3b6c3" stroke="#b3b6c3" stroke-width="0.76" stroke-linejoin="round">12/06 04:00</text>
<text transform="translate(2229.82 1630.40) scale(0.9806 1)" font-size="23.84" font-weight="normal" fill="#b3b6c3" stroke="#b3b6c3" stroke-width="0.76" stroke-linejoin="round">12/06 08:00</text>
<text transform="translate(2429.09 1630.40) scale(0.9806 1)" font-size="23.84" font-weight="normal" fill="#b3b6c3" stroke="#b3b6c3" stroke-width="0.76" stroke-linejoin="round">12/06 12:00</text>
<text transform="translate(3292.28 1292.40) scale(0.9052 1)" font-size="25.76" font-weight="bold" fill="#33a2e5">max</text>
<text transform="translate(3444.54 1292.40) scale(0.8601 1)" font-size="25.76" font-weight="bold" fill="#33a2e5">avg</text>
<rect x="2569.60" y="1329.50" width="27.80" height="9.00" fill="#7eb26d" rx="2"/>
<text transform="translate(2614.75 1340.20) scale(0.9801 1)" font-size="26.16" font-weight="normal" fill="#c6c7d4" stroke="#c6c7d4" stroke-width="0.77" stroke-linejoin="round">all</text>
<text transform="translate(3289.84 1340.20) scale(0.9139 1)" font-size="25.58" font-weight="normal" fill="#c6c7d4" stroke="#c6c7d4" stroke-width="0.82" stroke-linejoin="round">2.27 s</text>
<text transform="translate(3387.01 1340.20) scale(0.9186 1)" font-size="25.58" font-weight="normal" fill="#c6c7d4" stroke="#c6c7d4" stroke-width="0.82" stroke-linejoin="round">716.89 ms</text>
<rect x="2566.30" y="1359.62" width="934.10" height="50.30" fill="#22252b"/>
<rect x="2569.60" y="1382.02" width="27.80" height="9.00" fill="#eab839" rx="2"/>
<text transform="translate(2614.82 1392.72) scale(0.9124 1)" font-size="26.16" font-weight="normal" fill="#c6c7d4" stroke="#c6c7d4" stroke-width="0.82" stroke-linejoin="round">crm.api.entity.fetchPaymentDocuments</text>
<text transform="translate(3243.81 1392.72) scale(0.9186 1)" font-size="25.58" font-weight="normal" fill="#c6c7d4" stroke="#c6c7d4" stroke-width="0.82" stroke-linejoin="round">234.50 ms</text>
<text transform="translate(3387.01 1392.72) scale(0.9186 1)" font-size="25.58" font-weight="normal" fill="#c6c7d4" stroke="#c6c7d4" stroke-width="0.82" stroke-linejoin="round">107.41 ms</text>
<rect x="2569.60" y="1434.54" width="27.80" height="9.00" fill="#6ed0e0" rx="2"/>
<text transform="translate(2614.82 1445.24) scale(0.9126 1)" font-size="26.16" font-weight="normal" fill="#c6c7d4" stroke="#c6c7d4" stroke-width="0.82" stroke-linejoin="round">crm.api.timeline.loadEditor</text>
<text transform="translate(3243.81 1445.24) scale(0.9186 1)" font-size="25.58" font-weight="normal" fill="#c6c7d4" stroke="#c6c7d4" stroke-width="0.82" stroke-linejoin="round">121.00 ms</text>
<text transform="translate(3387.01 1445.24) scale(0.9186 1)" font-size="25.58" font-weight="normal" fill="#c6c7d4" stroke="#c6c7d4" stroke-width="0.82" stroke-linejoin="round">108.87 ms</text>
<rect x="2566.30" y="1464.66" width="934.10" height="50.30" fill="#22252b"/>
<rect x="2569.60" y="1487.06" width="27.80" height="9.00" fill="#ef843c" rx="2"/>
<text transform="translate(2618.18 1497.76) scale(0.9165 1)" font-size="26.16" font-weight="normal" fill="#c6c7d4" stroke="#c6c7d4" stroke-width="0.82" stroke-linejoin="round">Authorization</text>
<text transform="translate(3289.83 1497.76) scale(0.9139 1)" font-size="25.58" font-weight="normal" fill="#c6c7d4" stroke="#c6c7d4" stroke-width="0.82" stroke-linejoin="round">3.60 s</text>
<text transform="translate(3433.04 1497.76) scale(0.9139 1)" font-size="25.58" font-weight="normal" fill="#c6c7d4" stroke="#c6c7d4" stroke-width="0.82" stroke-linejoin="round">2.09 s</text>
<rect x="2569.60" y="1539.58" width="27.80" height="9.00" fill="#e24d42" rx="2"/>
<text transform="translate(2616.32 1550.28) scale(0.8881 1)" font-size="26.16" font-weight="normal" fill="#c6c7d4" stroke="#c6c7d4" stroke-width="0.84" stroke-linejoin="round">Product upload 1</text>
<text transform="translate(3243.81 1550.28) scale(0.9186 1)" font-size="25.58" font-weight="normal" fill="#c6c7d4" stroke="#c6c7d4" stroke-width="0.82" stroke-linejoin="round">183.55 ms</text>
<text transform="translate(3387.01 1550.28) scale(0.9186 1)" font-size="25.58" font-weight="normal" fill="#c6c7d4" stroke="#c6c7d4" stroke-width="0.82" stroke-linejoin="round">124.89 ms</text>
<rect x="2566.30" y="1569.70" width="934.10" height="50.30" fill="#22252b"/>
<rect x="2569.60" y="1592.10" width="27.80" height="9.00" fill="#1f78c1" rx="2"/>
<text transform="translate(2616.29 1602.80) scale(0.9015 1)" font-size="26.16" font-weight="normal" fill="#c6c7d4" stroke="#c6c7d4" stroke-width="0.83" stroke-linejoin="round">Product upload 2</text>
<text transform="translate(3243.81 1602.80) scale(0.9186 1)" font-size="25.58" font-weight="normal" fill="#c6c7d4" stroke="#c6c7d4" stroke-width="0.82" stroke-linejoin="round">149.51 ms</text>
<text transform="translate(3387.01 1602.80) scale(0.9186 1)" font-size="25.58" font-weight="normal" fill="#c6c7d4" stroke="#c6c7d4" stroke-width="0.82" stroke-linejoin="round">105.69 ms</text>
<rect x="2569.60" y="1644.62" width="27.80" height="9.00" fill="#ba43a9" rx="2"/>
<text transform="translate(2616.30 1655.32) scale(0.8955 1)" font-size="26.16" font-weight="normal" fill="#c6c7d4" stroke="#c6c7d4" stroke-width="0.84" stroke-linejoin="round">Lead conversion request</text>
<text transform="translate(3276.69 1655.32) scale(0.9159 1)" font-size="25.58" font-weight="normal" fill="#c6c7d4" stroke="#c6c7d4" stroke-width="0.82" stroke-linejoin="round">46.99 s</text>
<text transform="translate(3419.89 1655.32) scale(0.9159 1)" font-size="25.58" font-weight="normal" fill="#c6c7d4" stroke="#c6c7d4" stroke-width="0.82" stroke-linejoin="round">46.42 s</text>
<line x1="2566.30" y1="1673.70" x2="3500.40" y2="1673.70" stroke="#22252b" stroke-width="2"/>
</svg>
</body></html>
